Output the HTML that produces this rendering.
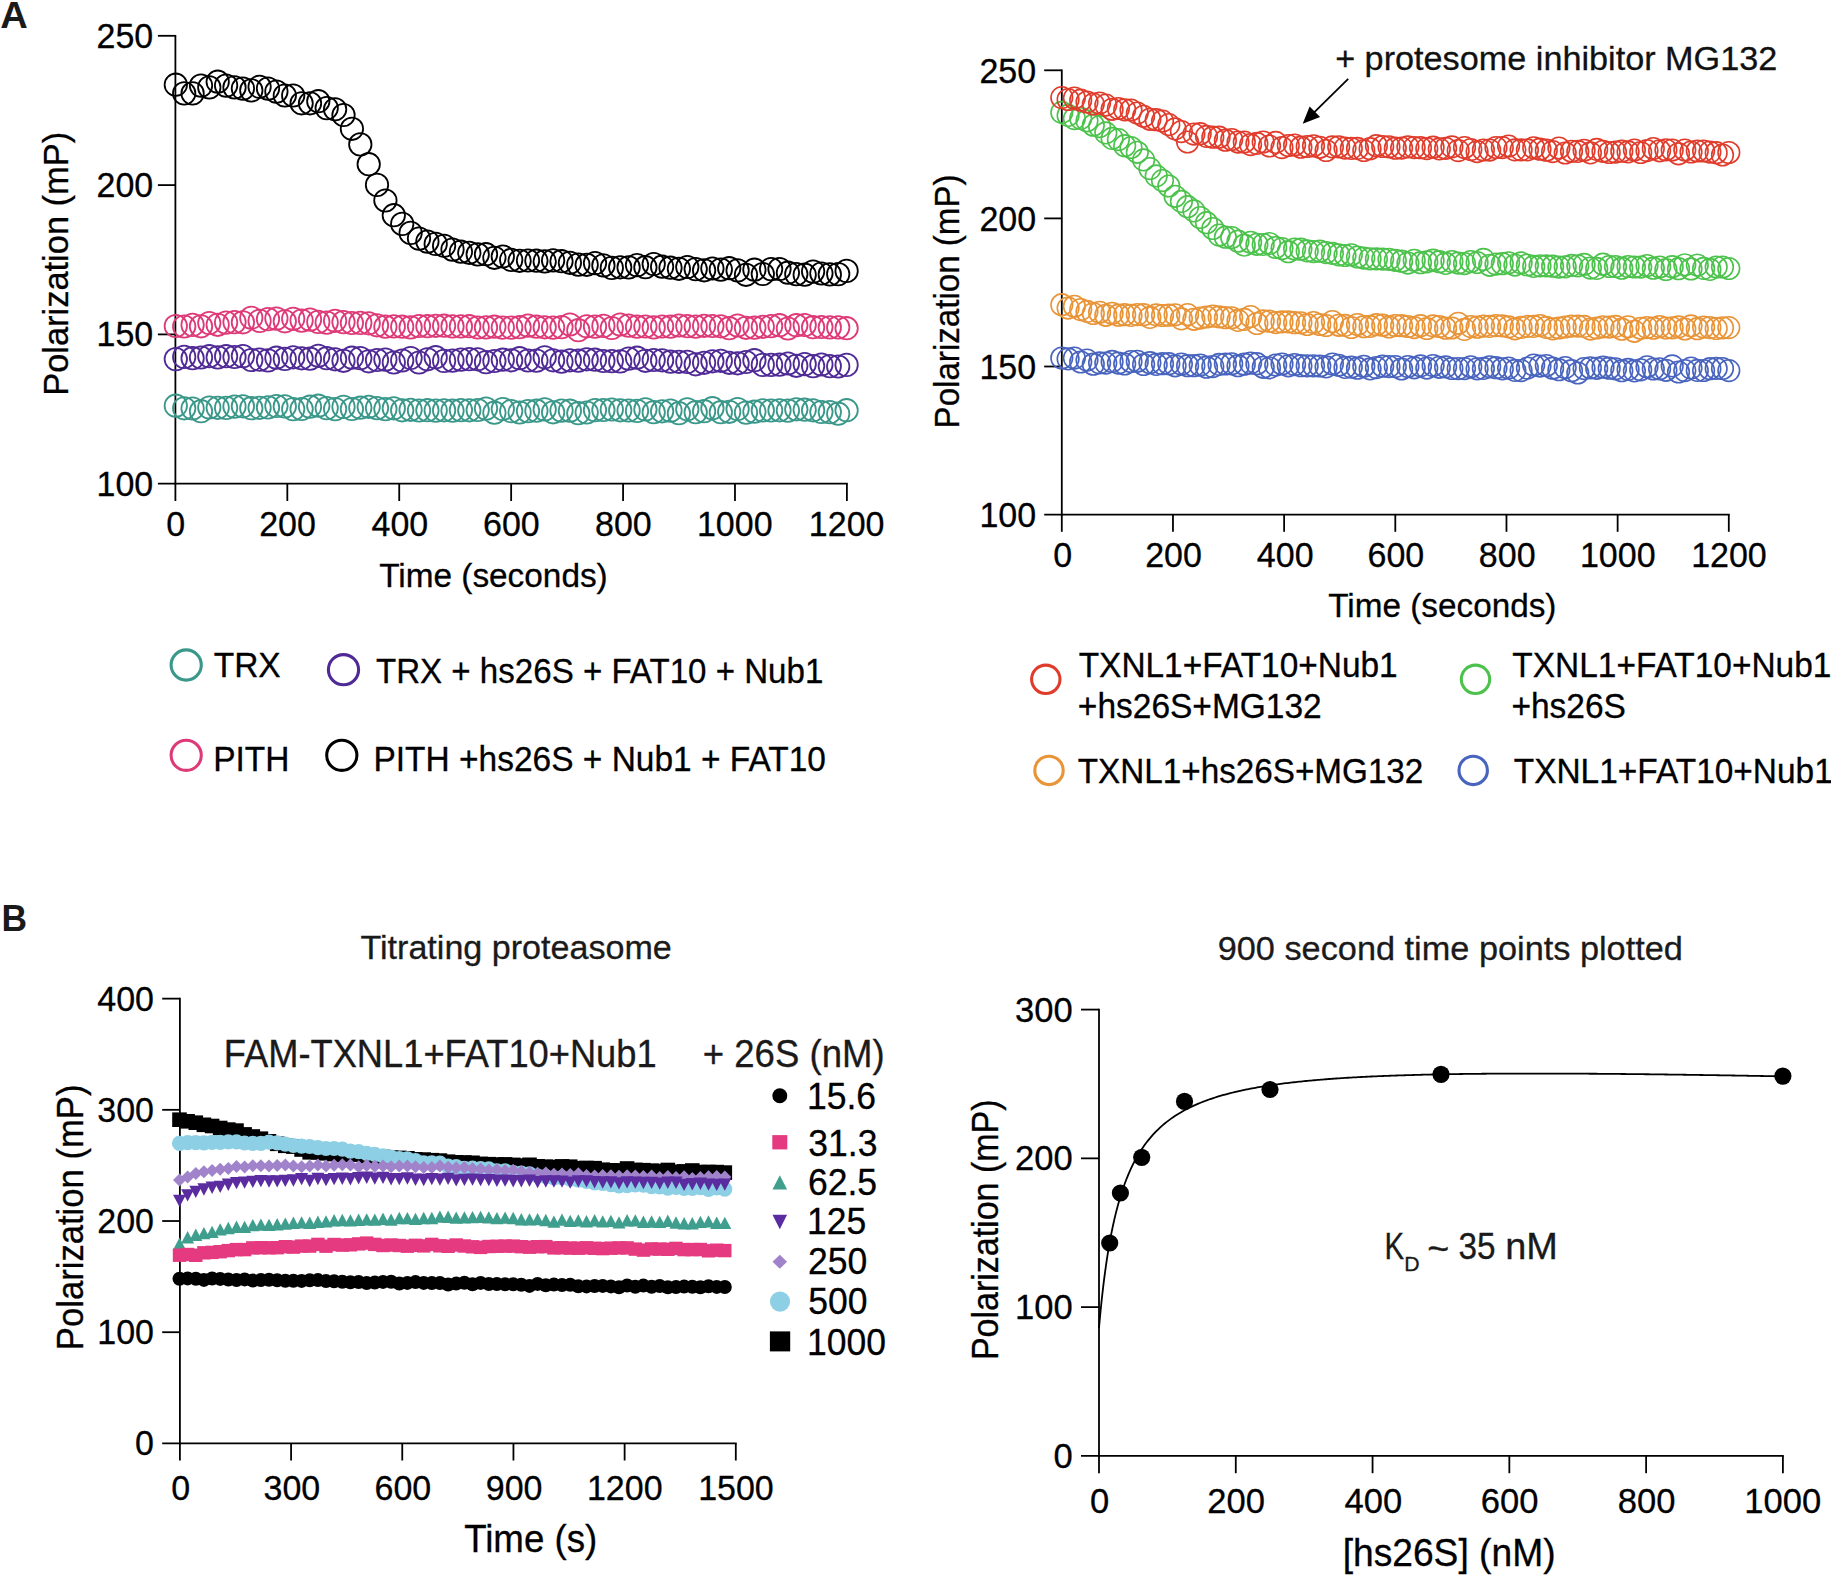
<!DOCTYPE html>
<html><head><meta charset="utf-8"><title>Figure</title>
<style>html,body{margin:0;padding:0;background:#fff;overflow:hidden;}svg{display:block;}</style></head>
<body><svg width="1831" height="1576" viewBox="0 0 1831 1576" font-family="Liberation Sans, Arial, Helvetica, sans-serif">
<rect width="100%" height="100%" fill="#fff"/>
<line x1="175.40" y1="34.90" x2="175.40" y2="484.60" stroke="#000" stroke-width="1.80"/>
<line x1="157.90" y1="483.70" x2="847.80" y2="483.70" stroke="#000" stroke-width="1.80"/>
<line x1="157.90" y1="334.40" x2="175.40" y2="334.40" stroke="#000" stroke-width="1.80"/>
<line x1="157.90" y1="185.10" x2="175.40" y2="185.10" stroke="#000" stroke-width="1.80"/>
<line x1="157.90" y1="35.80" x2="175.40" y2="35.80" stroke="#000" stroke-width="1.80"/>
<line x1="175.40" y1="483.70" x2="175.40" y2="501.00" stroke="#000" stroke-width="1.80"/>
<line x1="287.32" y1="483.70" x2="287.32" y2="501.00" stroke="#000" stroke-width="1.80"/>
<line x1="399.23" y1="483.70" x2="399.23" y2="501.00" stroke="#000" stroke-width="1.80"/>
<line x1="511.15" y1="483.70" x2="511.15" y2="501.00" stroke="#000" stroke-width="1.80"/>
<line x1="623.07" y1="483.70" x2="623.07" y2="501.00" stroke="#000" stroke-width="1.80"/>
<line x1="734.98" y1="483.70" x2="734.98" y2="501.00" stroke="#000" stroke-width="1.80"/>
<line x1="846.90" y1="483.70" x2="846.90" y2="501.00" stroke="#000" stroke-width="1.80"/>
<text transform="translate(0 495.70) scale(1 1.040)" x="96.50" y="0" font-size="34.00" fill="#000" stroke="#000" stroke-width="0.3">100</text>
<text transform="translate(0 346.40) scale(1 1.040)" x="96.50" y="0" font-size="34.00" fill="#000" stroke="#000" stroke-width="0.3">150</text>
<text transform="translate(0 197.10) scale(1 1.040)" x="96.50" y="0" font-size="34.00" fill="#000" stroke="#000" stroke-width="0.3">200</text>
<text transform="translate(0 47.80) scale(1 1.040)" x="96.50" y="0" font-size="34.00" fill="#000" stroke="#000" stroke-width="0.3">250</text>
<text transform="translate(0 535.50) scale(1 1.030)" x="166.35" y="0" font-size="34.00" fill="#000" stroke="#000" stroke-width="0.3">0</text>
<text transform="translate(0 535.50) scale(1 1.030)" x="259.16" y="0" font-size="34.00" fill="#000" stroke="#000" stroke-width="0.3">200</text>
<text transform="translate(0 535.50) scale(1 1.030)" x="371.54" y="0" font-size="34.00" fill="#000" stroke="#000" stroke-width="0.3">400</text>
<text transform="translate(0 535.50) scale(1 1.030)" x="482.99" y="0" font-size="34.00" fill="#000" stroke="#000" stroke-width="0.3">600</text>
<text transform="translate(0 535.50) scale(1 1.030)" x="595.03" y="0" font-size="34.00" fill="#000" stroke="#000" stroke-width="0.3">800</text>
<text transform="translate(0 535.50) scale(1 1.030)" x="696.93" y="0" font-size="34.00" fill="#000" stroke="#000" stroke-width="0.3">1000</text>
<text transform="translate(0 535.50) scale(1 1.030)" x="808.85" y="0" font-size="34.00" fill="#000" stroke="#000" stroke-width="0.3">1200</text>
<text transform="translate(0 586.60)" x="379.15" y="0" font-size="34.00" textLength="228.60" lengthAdjust="spacingAndGlyphs" fill="#000" stroke="#000" stroke-width="0.3">Time (seconds)</text>
<text transform="translate(67.50 0) rotate(-90) scale(1 1.020)" x="-395.82" y="0" font-size="34.00" textLength="263.96" lengthAdjust="spacingAndGlyphs" fill="#000" stroke="#000" stroke-width="0.3">Polarization (mP)</text>
<g fill="none" stroke="#3a988a" stroke-width="1.8"><circle cx="175.8" cy="405.7" r="11.2"/><circle cx="184.2" cy="408.3" r="11.2"/><circle cx="192.6" cy="408.5" r="11.2"/><circle cx="201.0" cy="411.2" r="11.2"/><circle cx="209.3" cy="407.5" r="11.2"/><circle cx="217.7" cy="407.8" r="11.2"/><circle cx="226.1" cy="407.9" r="11.2"/><circle cx="234.5" cy="406.6" r="11.2"/><circle cx="242.9" cy="406.3" r="11.2"/><circle cx="251.3" cy="408.2" r="11.2"/><circle cx="259.6" cy="407.8" r="11.2"/><circle cx="268.0" cy="407.4" r="11.2"/><circle cx="276.4" cy="406.0" r="11.2"/><circle cx="284.8" cy="406.4" r="11.2"/><circle cx="293.2" cy="409.1" r="11.2"/><circle cx="301.6" cy="409.0" r="11.2"/><circle cx="310.0" cy="406.7" r="11.2"/><circle cx="318.3" cy="405.7" r="11.2"/><circle cx="326.7" cy="408.1" r="11.2"/><circle cx="335.1" cy="409.1" r="11.2"/><circle cx="343.5" cy="406.9" r="11.2"/><circle cx="351.9" cy="409.0" r="11.2"/><circle cx="360.3" cy="407.7" r="11.2"/><circle cx="368.7" cy="406.8" r="11.2"/><circle cx="377.0" cy="408.1" r="11.2"/><circle cx="385.4" cy="409.1" r="11.2"/><circle cx="393.8" cy="408.3" r="11.2"/><circle cx="402.2" cy="410.3" r="11.2"/><circle cx="410.6" cy="409.8" r="11.2"/><circle cx="419.0" cy="410.5" r="11.2"/><circle cx="427.4" cy="410.2" r="11.2"/><circle cx="435.7" cy="410.6" r="11.2"/><circle cx="444.1" cy="410.3" r="11.2"/><circle cx="452.5" cy="410.7" r="11.2"/><circle cx="460.9" cy="410.1" r="11.2"/><circle cx="469.3" cy="410.3" r="11.2"/><circle cx="477.7" cy="410.0" r="11.2"/><circle cx="486.0" cy="408.6" r="11.2"/><circle cx="494.4" cy="412.7" r="11.2"/><circle cx="502.8" cy="409.0" r="11.2"/><circle cx="511.2" cy="411.1" r="11.2"/><circle cx="519.6" cy="412.5" r="11.2"/><circle cx="528.0" cy="411.1" r="11.2"/><circle cx="536.4" cy="410.7" r="11.2"/><circle cx="544.7" cy="409.4" r="11.2"/><circle cx="553.1" cy="412.3" r="11.2"/><circle cx="561.5" cy="410.6" r="11.2"/><circle cx="569.9" cy="410.7" r="11.2"/><circle cx="578.3" cy="413.2" r="11.2"/><circle cx="586.7" cy="412.5" r="11.2"/><circle cx="595.0" cy="410.1" r="11.2"/><circle cx="603.4" cy="410.0" r="11.2"/><circle cx="611.8" cy="409.5" r="11.2"/><circle cx="620.2" cy="410.3" r="11.2"/><circle cx="628.6" cy="410.5" r="11.2"/><circle cx="637.0" cy="410.9" r="11.2"/><circle cx="645.4" cy="409.4" r="11.2"/><circle cx="653.7" cy="412.2" r="11.2"/><circle cx="662.1" cy="411.3" r="11.2"/><circle cx="670.5" cy="410.6" r="11.2"/><circle cx="678.9" cy="413.2" r="11.2"/><circle cx="687.3" cy="409.3" r="11.2"/><circle cx="695.7" cy="412.2" r="11.2"/><circle cx="704.1" cy="411.2" r="11.2"/><circle cx="712.4" cy="408.2" r="11.2"/><circle cx="720.8" cy="412.2" r="11.2"/><circle cx="729.2" cy="411.8" r="11.2"/><circle cx="737.6" cy="409.0" r="11.2"/><circle cx="746.0" cy="412.6" r="11.2"/><circle cx="754.4" cy="411.7" r="11.2"/><circle cx="762.8" cy="410.4" r="11.2"/><circle cx="771.1" cy="410.5" r="11.2"/><circle cx="779.5" cy="410.3" r="11.2"/><circle cx="787.9" cy="410.6" r="11.2"/><circle cx="796.3" cy="409.3" r="11.2"/><circle cx="804.7" cy="409.7" r="11.2"/><circle cx="813.1" cy="410.3" r="11.2"/><circle cx="821.4" cy="412.0" r="11.2"/><circle cx="829.8" cy="412.1" r="11.2"/><circle cx="838.2" cy="413.7" r="11.2"/><circle cx="846.6" cy="410.2" r="11.2"/></g>
<g fill="none" stroke="#de3a78" stroke-width="1.8"><circle cx="175.8" cy="326.0" r="11.2"/><circle cx="184.2" cy="326.5" r="11.2"/><circle cx="192.6" cy="324.9" r="11.2"/><circle cx="201.0" cy="326.3" r="11.2"/><circle cx="209.3" cy="323.0" r="11.2"/><circle cx="217.7" cy="324.8" r="11.2"/><circle cx="226.1" cy="322.6" r="11.2"/><circle cx="234.5" cy="322.1" r="11.2"/><circle cx="242.9" cy="322.3" r="11.2"/><circle cx="251.3" cy="317.8" r="11.2"/><circle cx="259.6" cy="320.9" r="11.2"/><circle cx="268.0" cy="319.1" r="11.2"/><circle cx="276.4" cy="318.6" r="11.2"/><circle cx="284.8" cy="321.3" r="11.2"/><circle cx="293.2" cy="318.8" r="11.2"/><circle cx="301.6" cy="320.6" r="11.2"/><circle cx="310.0" cy="319.6" r="11.2"/><circle cx="318.3" cy="321.9" r="11.2"/><circle cx="326.7" cy="322.6" r="11.2"/><circle cx="335.1" cy="320.8" r="11.2"/><circle cx="343.5" cy="322.1" r="11.2"/><circle cx="351.9" cy="323.0" r="11.2"/><circle cx="360.3" cy="322.9" r="11.2"/><circle cx="368.7" cy="323.3" r="11.2"/><circle cx="377.0" cy="325.3" r="11.2"/><circle cx="385.4" cy="326.7" r="11.2"/><circle cx="393.8" cy="326.4" r="11.2"/><circle cx="402.2" cy="326.7" r="11.2"/><circle cx="410.6" cy="327.4" r="11.2"/><circle cx="419.0" cy="326.0" r="11.2"/><circle cx="427.4" cy="326.2" r="11.2"/><circle cx="435.7" cy="325.8" r="11.2"/><circle cx="444.1" cy="325.7" r="11.2"/><circle cx="452.5" cy="326.4" r="11.2"/><circle cx="460.9" cy="326.4" r="11.2"/><circle cx="469.3" cy="326.2" r="11.2"/><circle cx="477.7" cy="327.5" r="11.2"/><circle cx="486.0" cy="327.4" r="11.2"/><circle cx="494.4" cy="326.7" r="11.2"/><circle cx="502.8" cy="327.6" r="11.2"/><circle cx="511.2" cy="327.6" r="11.2"/><circle cx="519.6" cy="327.2" r="11.2"/><circle cx="528.0" cy="325.6" r="11.2"/><circle cx="536.4" cy="326.7" r="11.2"/><circle cx="544.7" cy="327.3" r="11.2"/><circle cx="553.1" cy="327.6" r="11.2"/><circle cx="561.5" cy="327.1" r="11.2"/><circle cx="569.9" cy="324.5" r="11.2"/><circle cx="578.3" cy="330.2" r="11.2"/><circle cx="586.7" cy="326.3" r="11.2"/><circle cx="595.0" cy="326.6" r="11.2"/><circle cx="603.4" cy="325.9" r="11.2"/><circle cx="611.8" cy="328.0" r="11.2"/><circle cx="620.2" cy="324.5" r="11.2"/><circle cx="628.6" cy="325.6" r="11.2"/><circle cx="637.0" cy="326.7" r="11.2"/><circle cx="645.4" cy="326.5" r="11.2"/><circle cx="653.7" cy="327.4" r="11.2"/><circle cx="662.1" cy="326.5" r="11.2"/><circle cx="670.5" cy="326.7" r="11.2"/><circle cx="678.9" cy="325.5" r="11.2"/><circle cx="687.3" cy="326.1" r="11.2"/><circle cx="695.7" cy="326.6" r="11.2"/><circle cx="704.1" cy="325.8" r="11.2"/><circle cx="712.4" cy="326.0" r="11.2"/><circle cx="720.8" cy="326.3" r="11.2"/><circle cx="729.2" cy="328.2" r="11.2"/><circle cx="737.6" cy="325.5" r="11.2"/><circle cx="746.0" cy="327.8" r="11.2"/><circle cx="754.4" cy="327.7" r="11.2"/><circle cx="762.8" cy="326.8" r="11.2"/><circle cx="771.1" cy="326.1" r="11.2"/><circle cx="779.5" cy="325.2" r="11.2"/><circle cx="787.9" cy="328.5" r="11.2"/><circle cx="796.3" cy="325.2" r="11.2"/><circle cx="804.7" cy="325.0" r="11.2"/><circle cx="813.1" cy="327.2" r="11.2"/><circle cx="821.4" cy="327.0" r="11.2"/><circle cx="829.8" cy="327.4" r="11.2"/><circle cx="838.2" cy="327.4" r="11.2"/><circle cx="846.6" cy="328.2" r="11.2"/></g>
<g fill="none" stroke="#4f2a96" stroke-width="1.8"><circle cx="175.8" cy="359.1" r="11.2"/><circle cx="184.2" cy="356.9" r="11.2"/><circle cx="192.6" cy="358.2" r="11.2"/><circle cx="201.0" cy="357.5" r="11.2"/><circle cx="209.3" cy="356.2" r="11.2"/><circle cx="217.7" cy="357.4" r="11.2"/><circle cx="226.1" cy="356.2" r="11.2"/><circle cx="234.5" cy="357.0" r="11.2"/><circle cx="242.9" cy="356.1" r="11.2"/><circle cx="251.3" cy="360.0" r="11.2"/><circle cx="259.6" cy="359.6" r="11.2"/><circle cx="268.0" cy="360.4" r="11.2"/><circle cx="276.4" cy="357.7" r="11.2"/><circle cx="284.8" cy="358.9" r="11.2"/><circle cx="293.2" cy="357.3" r="11.2"/><circle cx="301.6" cy="358.3" r="11.2"/><circle cx="310.0" cy="358.7" r="11.2"/><circle cx="318.3" cy="355.8" r="11.2"/><circle cx="326.7" cy="358.2" r="11.2"/><circle cx="335.1" cy="359.3" r="11.2"/><circle cx="343.5" cy="360.8" r="11.2"/><circle cx="351.9" cy="357.7" r="11.2"/><circle cx="360.3" cy="358.1" r="11.2"/><circle cx="368.7" cy="361.3" r="11.2"/><circle cx="377.0" cy="360.0" r="11.2"/><circle cx="385.4" cy="359.6" r="11.2"/><circle cx="393.8" cy="362.5" r="11.2"/><circle cx="402.2" cy="360.5" r="11.2"/><circle cx="410.6" cy="358.0" r="11.2"/><circle cx="419.0" cy="362.5" r="11.2"/><circle cx="427.4" cy="359.3" r="11.2"/><circle cx="435.7" cy="357.2" r="11.2"/><circle cx="444.1" cy="360.9" r="11.2"/><circle cx="452.5" cy="360.6" r="11.2"/><circle cx="460.9" cy="359.6" r="11.2"/><circle cx="469.3" cy="359.1" r="11.2"/><circle cx="477.7" cy="359.3" r="11.2"/><circle cx="486.0" cy="362.1" r="11.2"/><circle cx="494.4" cy="361.0" r="11.2"/><circle cx="502.8" cy="359.7" r="11.2"/><circle cx="511.2" cy="360.3" r="11.2"/><circle cx="519.6" cy="358.2" r="11.2"/><circle cx="528.0" cy="360.5" r="11.2"/><circle cx="536.4" cy="360.6" r="11.2"/><circle cx="544.7" cy="357.3" r="11.2"/><circle cx="553.1" cy="360.3" r="11.2"/><circle cx="561.5" cy="361.7" r="11.2"/><circle cx="569.9" cy="360.3" r="11.2"/><circle cx="578.3" cy="360.7" r="11.2"/><circle cx="586.7" cy="359.3" r="11.2"/><circle cx="595.0" cy="359.7" r="11.2"/><circle cx="603.4" cy="361.0" r="11.2"/><circle cx="611.8" cy="361.1" r="11.2"/><circle cx="620.2" cy="361.4" r="11.2"/><circle cx="628.6" cy="358.6" r="11.2"/><circle cx="637.0" cy="357.7" r="11.2"/><circle cx="645.4" cy="360.8" r="11.2"/><circle cx="653.7" cy="360.0" r="11.2"/><circle cx="662.1" cy="360.3" r="11.2"/><circle cx="670.5" cy="361.7" r="11.2"/><circle cx="678.9" cy="361.8" r="11.2"/><circle cx="687.3" cy="361.9" r="11.2"/><circle cx="695.7" cy="364.3" r="11.2"/><circle cx="704.1" cy="362.8" r="11.2"/><circle cx="712.4" cy="361.3" r="11.2"/><circle cx="720.8" cy="360.8" r="11.2"/><circle cx="729.2" cy="362.8" r="11.2"/><circle cx="737.6" cy="363.3" r="11.2"/><circle cx="746.0" cy="362.0" r="11.2"/><circle cx="754.4" cy="360.2" r="11.2"/><circle cx="762.8" cy="364.9" r="11.2"/><circle cx="771.1" cy="364.9" r="11.2"/><circle cx="779.5" cy="364.7" r="11.2"/><circle cx="787.9" cy="363.5" r="11.2"/><circle cx="796.3" cy="365.8" r="11.2"/><circle cx="804.7" cy="364.1" r="11.2"/><circle cx="813.1" cy="366.1" r="11.2"/><circle cx="821.4" cy="364.5" r="11.2"/><circle cx="829.8" cy="366.1" r="11.2"/><circle cx="838.2" cy="366.5" r="11.2"/><circle cx="846.6" cy="364.9" r="11.2"/></g>
<g fill="none" stroke="#000000" stroke-width="1.8"><circle cx="175.8" cy="84.7" r="11.2"/><circle cx="184.2" cy="93.4" r="11.2"/><circle cx="192.6" cy="93.4" r="11.2"/><circle cx="201.0" cy="85.6" r="11.2"/><circle cx="209.3" cy="87.4" r="11.2"/><circle cx="217.7" cy="81.7" r="11.2"/><circle cx="226.1" cy="85.6" r="11.2"/><circle cx="234.5" cy="87.4" r="11.2"/><circle cx="242.9" cy="88.6" r="11.2"/><circle cx="251.3" cy="90.4" r="11.2"/><circle cx="259.6" cy="86.8" r="11.2"/><circle cx="268.0" cy="88.6" r="11.2"/><circle cx="276.4" cy="91.6" r="11.2"/><circle cx="284.8" cy="95.5" r="11.2"/><circle cx="293.2" cy="95.5" r="11.2"/><circle cx="301.6" cy="103.3" r="11.2"/><circle cx="310.0" cy="103.3" r="11.2"/><circle cx="318.3" cy="101.2" r="11.2"/><circle cx="326.7" cy="108.1" r="11.2"/><circle cx="335.1" cy="109.3" r="11.2"/><circle cx="343.5" cy="115.0" r="11.2"/><circle cx="351.9" cy="128.8" r="11.2"/><circle cx="360.3" cy="144.4" r="11.2"/><circle cx="368.7" cy="164.2" r="11.2"/><circle cx="377.0" cy="184.9" r="11.2"/><circle cx="385.4" cy="200.5" r="11.2"/><circle cx="393.8" cy="215.2" r="11.2"/><circle cx="402.2" cy="223.9" r="11.2"/><circle cx="410.6" cy="232.9" r="11.2"/><circle cx="419.0" cy="238.6" r="11.2"/><circle cx="427.4" cy="241.6" r="11.2"/><circle cx="435.7" cy="243.9" r="11.2"/><circle cx="444.1" cy="245.8" r="11.2"/><circle cx="452.5" cy="249.6" r="11.2"/><circle cx="460.9" cy="251.7" r="11.2"/><circle cx="469.3" cy="252.8" r="11.2"/><circle cx="477.7" cy="254.4" r="11.2"/><circle cx="486.0" cy="254.2" r="11.2"/><circle cx="494.4" cy="257.8" r="11.2"/><circle cx="502.8" cy="256.5" r="11.2"/><circle cx="511.2" cy="259.9" r="11.2"/><circle cx="519.6" cy="260.8" r="11.2"/><circle cx="528.0" cy="260.5" r="11.2"/><circle cx="536.4" cy="260.7" r="11.2"/><circle cx="544.7" cy="261.4" r="11.2"/><circle cx="553.1" cy="260.4" r="11.2"/><circle cx="561.5" cy="261.2" r="11.2"/><circle cx="569.9" cy="262.8" r="11.2"/><circle cx="578.3" cy="264.6" r="11.2"/><circle cx="586.7" cy="264.8" r="11.2"/><circle cx="595.0" cy="263.1" r="11.2"/><circle cx="603.4" cy="265.4" r="11.2"/><circle cx="611.8" cy="267.9" r="11.2"/><circle cx="620.2" cy="267.3" r="11.2"/><circle cx="628.6" cy="267.4" r="11.2"/><circle cx="637.0" cy="265.1" r="11.2"/><circle cx="645.4" cy="267.2" r="11.2"/><circle cx="653.7" cy="264.0" r="11.2"/><circle cx="662.1" cy="266.7" r="11.2"/><circle cx="670.5" cy="267.7" r="11.2"/><circle cx="678.9" cy="268.8" r="11.2"/><circle cx="687.3" cy="267.0" r="11.2"/><circle cx="695.7" cy="269.1" r="11.2"/><circle cx="704.1" cy="270.3" r="11.2"/><circle cx="712.4" cy="268.5" r="11.2"/><circle cx="720.8" cy="269.6" r="11.2"/><circle cx="729.2" cy="268.2" r="11.2"/><circle cx="737.6" cy="270.4" r="11.2"/><circle cx="746.0" cy="274.8" r="11.2"/><circle cx="754.4" cy="269.7" r="11.2"/><circle cx="762.8" cy="274.0" r="11.2"/><circle cx="771.1" cy="269.1" r="11.2"/><circle cx="779.5" cy="269.0" r="11.2"/><circle cx="787.9" cy="272.7" r="11.2"/><circle cx="796.3" cy="274.1" r="11.2"/><circle cx="804.7" cy="274.7" r="11.2"/><circle cx="813.1" cy="271.6" r="11.2"/><circle cx="821.4" cy="273.5" r="11.2"/><circle cx="829.8" cy="274.4" r="11.2"/><circle cx="838.2" cy="274.1" r="11.2"/><circle cx="846.6" cy="270.9" r="11.2"/></g>
<circle cx="186.2" cy="665.0" r="15.1" fill="none" stroke="#3a988a" stroke-width="3.1"/>
<circle cx="343.5" cy="669.7" r="15.1" fill="none" stroke="#4f2a96" stroke-width="3.1"/>
<circle cx="186.2" cy="755.3" r="15.1" fill="none" stroke="#de3a78" stroke-width="3.1"/>
<circle cx="341.8" cy="755.3" r="15.1" fill="none" stroke="#000000" stroke-width="3.1"/>
<text transform="translate(0 677.20) scale(1 1.060)" x="213.75" y="0" font-size="33.50" fill="#000" stroke="#000" stroke-width="0.3">TRX</text>
<text transform="translate(0 682.50) scale(1 1.030)" x="375.96" y="0" font-size="33.50" textLength="447.34" lengthAdjust="spacingAndGlyphs" fill="#000" stroke="#000" stroke-width="0.3">TRX + hs26S + FAT10 + Nub1</text>
<text transform="translate(0 770.50) scale(1 1.060)" x="213.15" y="0" font-size="33.50" fill="#000" stroke="#000" stroke-width="0.3">PITH</text>
<text transform="translate(0 770.50) scale(1 1.030)" x="373.48" y="0" font-size="33.50" textLength="452.52" lengthAdjust="spacingAndGlyphs" fill="#000" stroke="#000" stroke-width="0.3">PITH +hs26S + Nub1 + FAT10</text>
<line x1="1061.80" y1="69.40" x2="1061.80" y2="515.50" stroke="#000" stroke-width="1.80"/>
<line x1="1044.20" y1="514.60" x2="1729.70" y2="514.60" stroke="#000" stroke-width="1.80"/>
<line x1="1044.20" y1="366.50" x2="1061.80" y2="366.50" stroke="#000" stroke-width="1.80"/>
<line x1="1044.20" y1="218.40" x2="1061.80" y2="218.40" stroke="#000" stroke-width="1.80"/>
<line x1="1044.20" y1="70.30" x2="1061.80" y2="70.30" stroke="#000" stroke-width="1.80"/>
<line x1="1061.80" y1="514.60" x2="1061.80" y2="531.80" stroke="#000" stroke-width="1.80"/>
<line x1="1172.97" y1="514.60" x2="1172.97" y2="531.80" stroke="#000" stroke-width="1.80"/>
<line x1="1284.13" y1="514.60" x2="1284.13" y2="531.80" stroke="#000" stroke-width="1.80"/>
<line x1="1395.30" y1="514.60" x2="1395.30" y2="531.80" stroke="#000" stroke-width="1.80"/>
<line x1="1506.47" y1="514.60" x2="1506.47" y2="531.80" stroke="#000" stroke-width="1.80"/>
<line x1="1617.63" y1="514.60" x2="1617.63" y2="531.80" stroke="#000" stroke-width="1.80"/>
<line x1="1728.80" y1="514.60" x2="1728.80" y2="531.80" stroke="#000" stroke-width="1.80"/>
<text transform="translate(0 527.20) scale(1 1.020)" x="979.40" y="0" font-size="34.00" fill="#000" stroke="#000" stroke-width="0.3">100</text>
<text transform="translate(0 379.10) scale(1 1.020)" x="979.40" y="0" font-size="34.00" fill="#000" stroke="#000" stroke-width="0.3">150</text>
<text transform="translate(0 231.00) scale(1 1.020)" x="979.40" y="0" font-size="34.00" fill="#000" stroke="#000" stroke-width="0.3">200</text>
<text transform="translate(0 82.90) scale(1 1.020)" x="979.40" y="0" font-size="34.00" fill="#000" stroke="#000" stroke-width="0.3">250</text>
<text transform="translate(0 566.80) scale(1 1.020)" x="1053.15" y="0" font-size="34.00" fill="#000" stroke="#000" stroke-width="0.3">0</text>
<text transform="translate(0 566.80) scale(1 1.020)" x="1145.21" y="0" font-size="34.00" fill="#000" stroke="#000" stroke-width="0.3">200</text>
<text transform="translate(0 566.80) scale(1 1.020)" x="1256.84" y="0" font-size="34.00" fill="#000" stroke="#000" stroke-width="0.3">400</text>
<text transform="translate(0 566.80) scale(1 1.020)" x="1367.54" y="0" font-size="34.00" fill="#000" stroke="#000" stroke-width="0.3">600</text>
<text transform="translate(0 566.80) scale(1 1.020)" x="1478.83" y="0" font-size="34.00" fill="#000" stroke="#000" stroke-width="0.3">800</text>
<text transform="translate(0 566.80) scale(1 1.020)" x="1579.98" y="0" font-size="34.00" fill="#000" stroke="#000" stroke-width="0.3">1000</text>
<text transform="translate(0 566.80) scale(1 1.020)" x="1691.15" y="0" font-size="34.00" fill="#000" stroke="#000" stroke-width="0.3">1200</text>
<text transform="translate(0 617.00)" x="1328.26" y="0" font-size="34.00" textLength="228.20" lengthAdjust="spacingAndGlyphs" fill="#000" stroke="#000" stroke-width="0.3">Time (seconds)</text>
<text transform="translate(958.70 0) rotate(-90) scale(1 1.020)" x="-428.42" y="0" font-size="33.50" textLength="253.97" lengthAdjust="spacingAndGlyphs" fill="#000" stroke="#000" stroke-width="0.3">Polarization (mP)</text>
<g fill="none" stroke="#4864be" stroke-width="1.6"><circle cx="1061.8" cy="358.0" r="10.8"/><circle cx="1068.1" cy="358.9" r="10.8"/><circle cx="1074.4" cy="358.1" r="10.8"/><circle cx="1080.7" cy="362.0" r="10.8"/><circle cx="1087.0" cy="360.1" r="10.8"/><circle cx="1093.3" cy="364.2" r="10.8"/><circle cx="1099.6" cy="362.9" r="10.8"/><circle cx="1105.8" cy="363.1" r="10.8"/><circle cx="1112.1" cy="361.4" r="10.8"/><circle cx="1118.4" cy="363.1" r="10.8"/><circle cx="1124.7" cy="364.0" r="10.8"/><circle cx="1131.0" cy="361.5" r="10.8"/><circle cx="1137.3" cy="361.3" r="10.8"/><circle cx="1143.6" cy="364.5" r="10.8"/><circle cx="1149.9" cy="362.7" r="10.8"/><circle cx="1156.2" cy="364.4" r="10.8"/><circle cx="1162.5" cy="363.7" r="10.8"/><circle cx="1168.8" cy="363.7" r="10.8"/><circle cx="1175.1" cy="365.8" r="10.8"/><circle cx="1181.4" cy="364.1" r="10.8"/><circle cx="1187.6" cy="365.7" r="10.8"/><circle cx="1193.9" cy="365.7" r="10.8"/><circle cx="1200.2" cy="365.1" r="10.8"/><circle cx="1206.5" cy="367.2" r="10.8"/><circle cx="1212.8" cy="366.6" r="10.8"/><circle cx="1219.1" cy="364.4" r="10.8"/><circle cx="1225.4" cy="364.0" r="10.8"/><circle cx="1231.7" cy="363.8" r="10.8"/><circle cx="1238.0" cy="365.7" r="10.8"/><circle cx="1244.3" cy="364.2" r="10.8"/><circle cx="1250.6" cy="363.1" r="10.8"/><circle cx="1256.9" cy="363.7" r="10.8"/><circle cx="1263.2" cy="367.3" r="10.8"/><circle cx="1269.5" cy="367.8" r="10.8"/><circle cx="1275.7" cy="365.1" r="10.8"/><circle cx="1282.0" cy="364.0" r="10.8"/><circle cx="1288.3" cy="365.8" r="10.8"/><circle cx="1294.6" cy="364.6" r="10.8"/><circle cx="1300.9" cy="365.7" r="10.8"/><circle cx="1307.2" cy="365.8" r="10.8"/><circle cx="1313.5" cy="365.8" r="10.8"/><circle cx="1319.8" cy="366.0" r="10.8"/><circle cx="1326.1" cy="366.9" r="10.8"/><circle cx="1332.4" cy="364.0" r="10.8"/><circle cx="1338.7" cy="365.3" r="10.8"/><circle cx="1345.0" cy="367.4" r="10.8"/><circle cx="1351.3" cy="367.1" r="10.8"/><circle cx="1357.5" cy="368.2" r="10.8"/><circle cx="1363.8" cy="366.3" r="10.8"/><circle cx="1370.1" cy="368.9" r="10.8"/><circle cx="1376.4" cy="367.6" r="10.8"/><circle cx="1382.7" cy="366.2" r="10.8"/><circle cx="1389.0" cy="366.6" r="10.8"/><circle cx="1395.3" cy="366.6" r="10.8"/><circle cx="1401.6" cy="369.0" r="10.8"/><circle cx="1407.9" cy="366.5" r="10.8"/><circle cx="1414.2" cy="367.8" r="10.8"/><circle cx="1420.5" cy="365.9" r="10.8"/><circle cx="1426.8" cy="368.1" r="10.8"/><circle cx="1433.1" cy="365.5" r="10.8"/><circle cx="1439.3" cy="367.3" r="10.8"/><circle cx="1445.6" cy="366.9" r="10.8"/><circle cx="1451.9" cy="368.5" r="10.8"/><circle cx="1458.2" cy="368.6" r="10.8"/><circle cx="1464.5" cy="368.6" r="10.8"/><circle cx="1470.8" cy="366.8" r="10.8"/><circle cx="1477.1" cy="368.8" r="10.8"/><circle cx="1483.4" cy="368.4" r="10.8"/><circle cx="1489.7" cy="366.8" r="10.8"/><circle cx="1496.0" cy="367.7" r="10.8"/><circle cx="1502.3" cy="368.8" r="10.8"/><circle cx="1508.6" cy="368.1" r="10.8"/><circle cx="1514.9" cy="370.4" r="10.8"/><circle cx="1521.1" cy="370.6" r="10.8"/><circle cx="1527.4" cy="368.1" r="10.8"/><circle cx="1533.7" cy="365.1" r="10.8"/><circle cx="1540.0" cy="366.1" r="10.8"/><circle cx="1546.3" cy="365.5" r="10.8"/><circle cx="1552.6" cy="368.2" r="10.8"/><circle cx="1558.9" cy="369.7" r="10.8"/><circle cx="1565.2" cy="367.6" r="10.8"/><circle cx="1571.5" cy="370.7" r="10.8"/><circle cx="1577.8" cy="373.0" r="10.8"/><circle cx="1584.1" cy="368.6" r="10.8"/><circle cx="1590.4" cy="367.8" r="10.8"/><circle cx="1596.7" cy="368.3" r="10.8"/><circle cx="1603.0" cy="367.2" r="10.8"/><circle cx="1609.2" cy="368.2" r="10.8"/><circle cx="1615.5" cy="368.8" r="10.8"/><circle cx="1621.8" cy="370.7" r="10.8"/><circle cx="1628.1" cy="369.4" r="10.8"/><circle cx="1634.4" cy="370.9" r="10.8"/><circle cx="1640.7" cy="369.8" r="10.8"/><circle cx="1647.0" cy="366.8" r="10.8"/><circle cx="1653.3" cy="369.0" r="10.8"/><circle cx="1659.6" cy="368.8" r="10.8"/><circle cx="1665.9" cy="370.3" r="10.8"/><circle cx="1672.2" cy="365.9" r="10.8"/><circle cx="1678.5" cy="372.0" r="10.8"/><circle cx="1684.8" cy="370.6" r="10.8"/><circle cx="1691.0" cy="368.1" r="10.8"/><circle cx="1697.3" cy="370.4" r="10.8"/><circle cx="1703.6" cy="370.5" r="10.8"/><circle cx="1709.9" cy="368.7" r="10.8"/><circle cx="1716.2" cy="368.4" r="10.8"/><circle cx="1722.5" cy="368.5" r="10.8"/><circle cx="1728.8" cy="370.6" r="10.8"/></g>
<g fill="none" stroke="#e89437" stroke-width="1.6"><circle cx="1061.8" cy="304.7" r="10.8"/><circle cx="1068.1" cy="308.1" r="10.8"/><circle cx="1074.4" cy="306.3" r="10.8"/><circle cx="1080.7" cy="309.6" r="10.8"/><circle cx="1087.0" cy="311.4" r="10.8"/><circle cx="1093.3" cy="313.5" r="10.8"/><circle cx="1099.6" cy="312.3" r="10.8"/><circle cx="1105.8" cy="315.3" r="10.8"/><circle cx="1112.1" cy="313.3" r="10.8"/><circle cx="1118.4" cy="315.2" r="10.8"/><circle cx="1124.7" cy="314.7" r="10.8"/><circle cx="1131.0" cy="315.4" r="10.8"/><circle cx="1137.3" cy="314.6" r="10.8"/><circle cx="1143.6" cy="314.7" r="10.8"/><circle cx="1149.9" cy="317.4" r="10.8"/><circle cx="1156.2" cy="314.9" r="10.8"/><circle cx="1162.5" cy="315.5" r="10.8"/><circle cx="1168.8" cy="315.2" r="10.8"/><circle cx="1175.1" cy="314.8" r="10.8"/><circle cx="1181.4" cy="318.9" r="10.8"/><circle cx="1187.6" cy="314.6" r="10.8"/><circle cx="1193.9" cy="319.3" r="10.8"/><circle cx="1200.2" cy="318.1" r="10.8"/><circle cx="1206.5" cy="317.0" r="10.8"/><circle cx="1212.8" cy="316.1" r="10.8"/><circle cx="1219.1" cy="316.9" r="10.8"/><circle cx="1225.4" cy="317.7" r="10.8"/><circle cx="1231.7" cy="317.8" r="10.8"/><circle cx="1238.0" cy="320.4" r="10.8"/><circle cx="1244.3" cy="319.4" r="10.8"/><circle cx="1250.6" cy="316.5" r="10.8"/><circle cx="1256.9" cy="323.5" r="10.8"/><circle cx="1263.2" cy="320.9" r="10.8"/><circle cx="1269.5" cy="321.2" r="10.8"/><circle cx="1275.7" cy="322.6" r="10.8"/><circle cx="1282.0" cy="321.9" r="10.8"/><circle cx="1288.3" cy="321.9" r="10.8"/><circle cx="1294.6" cy="322.7" r="10.8"/><circle cx="1300.9" cy="322.8" r="10.8"/><circle cx="1307.2" cy="324.5" r="10.8"/><circle cx="1313.5" cy="322.6" r="10.8"/><circle cx="1319.8" cy="324.5" r="10.8"/><circle cx="1326.1" cy="325.5" r="10.8"/><circle cx="1332.4" cy="321.5" r="10.8"/><circle cx="1338.7" cy="325.3" r="10.8"/><circle cx="1345.0" cy="325.4" r="10.8"/><circle cx="1351.3" cy="327.5" r="10.8"/><circle cx="1357.5" cy="324.6" r="10.8"/><circle cx="1363.8" cy="326.7" r="10.8"/><circle cx="1370.1" cy="326.4" r="10.8"/><circle cx="1376.4" cy="324.7" r="10.8"/><circle cx="1382.7" cy="325.2" r="10.8"/><circle cx="1389.0" cy="327.0" r="10.8"/><circle cx="1395.3" cy="325.5" r="10.8"/><circle cx="1401.6" cy="325.7" r="10.8"/><circle cx="1407.9" cy="326.5" r="10.8"/><circle cx="1414.2" cy="327.6" r="10.8"/><circle cx="1420.5" cy="325.7" r="10.8"/><circle cx="1426.8" cy="328.5" r="10.8"/><circle cx="1433.1" cy="325.9" r="10.8"/><circle cx="1439.3" cy="326.5" r="10.8"/><circle cx="1445.6" cy="328.2" r="10.8"/><circle cx="1451.9" cy="328.0" r="10.8"/><circle cx="1458.2" cy="323.3" r="10.8"/><circle cx="1464.5" cy="329.4" r="10.8"/><circle cx="1470.8" cy="326.6" r="10.8"/><circle cx="1477.1" cy="327.2" r="10.8"/><circle cx="1483.4" cy="326.1" r="10.8"/><circle cx="1489.7" cy="326.4" r="10.8"/><circle cx="1496.0" cy="325.6" r="10.8"/><circle cx="1502.3" cy="325.9" r="10.8"/><circle cx="1508.6" cy="326.9" r="10.8"/><circle cx="1514.9" cy="328.8" r="10.8"/><circle cx="1521.1" cy="327.4" r="10.8"/><circle cx="1527.4" cy="326.4" r="10.8"/><circle cx="1533.7" cy="326.4" r="10.8"/><circle cx="1540.0" cy="325.6" r="10.8"/><circle cx="1546.3" cy="327.4" r="10.8"/><circle cx="1552.6" cy="328.8" r="10.8"/><circle cx="1558.9" cy="328.0" r="10.8"/><circle cx="1565.2" cy="327.0" r="10.8"/><circle cx="1571.5" cy="326.1" r="10.8"/><circle cx="1577.8" cy="326.1" r="10.8"/><circle cx="1584.1" cy="326.4" r="10.8"/><circle cx="1590.4" cy="329.1" r="10.8"/><circle cx="1596.7" cy="328.0" r="10.8"/><circle cx="1603.0" cy="326.8" r="10.8"/><circle cx="1609.2" cy="327.1" r="10.8"/><circle cx="1615.5" cy="326.4" r="10.8"/><circle cx="1621.8" cy="329.2" r="10.8"/><circle cx="1628.1" cy="326.8" r="10.8"/><circle cx="1634.4" cy="331.3" r="10.8"/><circle cx="1640.7" cy="328.3" r="10.8"/><circle cx="1647.0" cy="327.6" r="10.8"/><circle cx="1653.3" cy="328.2" r="10.8"/><circle cx="1659.6" cy="326.6" r="10.8"/><circle cx="1665.9" cy="328.0" r="10.8"/><circle cx="1672.2" cy="327.8" r="10.8"/><circle cx="1678.5" cy="326.9" r="10.8"/><circle cx="1684.8" cy="329.0" r="10.8"/><circle cx="1691.0" cy="325.9" r="10.8"/><circle cx="1697.3" cy="328.7" r="10.8"/><circle cx="1703.6" cy="327.1" r="10.8"/><circle cx="1709.9" cy="327.6" r="10.8"/><circle cx="1716.2" cy="328.5" r="10.8"/><circle cx="1722.5" cy="327.8" r="10.8"/><circle cx="1728.8" cy="327.6" r="10.8"/></g>
<g fill="none" stroke="#4cc24c" stroke-width="1.6"><circle cx="1061.8" cy="112.4" r="10.8"/><circle cx="1068.1" cy="115.4" r="10.8"/><circle cx="1074.4" cy="118.6" r="10.8"/><circle cx="1080.7" cy="118.4" r="10.8"/><circle cx="1087.0" cy="120.8" r="10.8"/><circle cx="1093.3" cy="125.2" r="10.8"/><circle cx="1099.6" cy="126.6" r="10.8"/><circle cx="1105.8" cy="132.9" r="10.8"/><circle cx="1112.1" cy="138.4" r="10.8"/><circle cx="1118.4" cy="139.6" r="10.8"/><circle cx="1124.7" cy="145.7" r="10.8"/><circle cx="1131.0" cy="147.5" r="10.8"/><circle cx="1137.3" cy="152.3" r="10.8"/><circle cx="1143.6" cy="159.9" r="10.8"/><circle cx="1149.9" cy="168.6" r="10.8"/><circle cx="1156.2" cy="175.9" r="10.8"/><circle cx="1162.5" cy="180.6" r="10.8"/><circle cx="1168.8" cy="186.0" r="10.8"/><circle cx="1175.1" cy="196.3" r="10.8"/><circle cx="1181.4" cy="201.4" r="10.8"/><circle cx="1187.6" cy="206.7" r="10.8"/><circle cx="1193.9" cy="210.9" r="10.8"/><circle cx="1200.2" cy="217.5" r="10.8"/><circle cx="1206.5" cy="222.7" r="10.8"/><circle cx="1212.8" cy="228.5" r="10.8"/><circle cx="1219.1" cy="235.1" r="10.8"/><circle cx="1225.4" cy="237.2" r="10.8"/><circle cx="1231.7" cy="237.5" r="10.8"/><circle cx="1238.0" cy="241.2" r="10.8"/><circle cx="1244.3" cy="245.2" r="10.8"/><circle cx="1250.6" cy="242.3" r="10.8"/><circle cx="1256.9" cy="244.3" r="10.8"/><circle cx="1263.2" cy="244.5" r="10.8"/><circle cx="1269.5" cy="243.5" r="10.8"/><circle cx="1275.7" cy="247.5" r="10.8"/><circle cx="1282.0" cy="248.5" r="10.8"/><circle cx="1288.3" cy="251.7" r="10.8"/><circle cx="1294.6" cy="249.0" r="10.8"/><circle cx="1300.9" cy="249.2" r="10.8"/><circle cx="1307.2" cy="250.9" r="10.8"/><circle cx="1313.5" cy="251.6" r="10.8"/><circle cx="1319.8" cy="251.2" r="10.8"/><circle cx="1326.1" cy="252.6" r="10.8"/><circle cx="1332.4" cy="253.4" r="10.8"/><circle cx="1338.7" cy="254.8" r="10.8"/><circle cx="1345.0" cy="255.5" r="10.8"/><circle cx="1351.3" cy="254.8" r="10.8"/><circle cx="1357.5" cy="257.0" r="10.8"/><circle cx="1363.8" cy="258.1" r="10.8"/><circle cx="1370.1" cy="258.8" r="10.8"/><circle cx="1376.4" cy="258.9" r="10.8"/><circle cx="1382.7" cy="259.1" r="10.8"/><circle cx="1389.0" cy="259.3" r="10.8"/><circle cx="1395.3" cy="260.3" r="10.8"/><circle cx="1401.6" cy="261.2" r="10.8"/><circle cx="1407.9" cy="263.1" r="10.8"/><circle cx="1414.2" cy="260.3" r="10.8"/><circle cx="1420.5" cy="262.7" r="10.8"/><circle cx="1426.8" cy="261.8" r="10.8"/><circle cx="1433.1" cy="260.2" r="10.8"/><circle cx="1439.3" cy="261.7" r="10.8"/><circle cx="1445.6" cy="263.4" r="10.8"/><circle cx="1451.9" cy="261.6" r="10.8"/><circle cx="1458.2" cy="263.1" r="10.8"/><circle cx="1464.5" cy="263.6" r="10.8"/><circle cx="1470.8" cy="261.5" r="10.8"/><circle cx="1477.1" cy="262.5" r="10.8"/><circle cx="1483.4" cy="259.4" r="10.8"/><circle cx="1489.7" cy="265.3" r="10.8"/><circle cx="1496.0" cy="264.1" r="10.8"/><circle cx="1502.3" cy="263.7" r="10.8"/><circle cx="1508.6" cy="262.8" r="10.8"/><circle cx="1514.9" cy="265.1" r="10.8"/><circle cx="1521.1" cy="262.9" r="10.8"/><circle cx="1527.4" cy="265.0" r="10.8"/><circle cx="1533.7" cy="266.4" r="10.8"/><circle cx="1540.0" cy="265.8" r="10.8"/><circle cx="1546.3" cy="265.9" r="10.8"/><circle cx="1552.6" cy="266.2" r="10.8"/><circle cx="1558.9" cy="267.1" r="10.8"/><circle cx="1565.2" cy="266.8" r="10.8"/><circle cx="1571.5" cy="265.4" r="10.8"/><circle cx="1577.8" cy="265.8" r="10.8"/><circle cx="1584.1" cy="264.4" r="10.8"/><circle cx="1590.4" cy="268.1" r="10.8"/><circle cx="1596.7" cy="268.4" r="10.8"/><circle cx="1603.0" cy="264.2" r="10.8"/><circle cx="1609.2" cy="266.5" r="10.8"/><circle cx="1615.5" cy="266.5" r="10.8"/><circle cx="1621.8" cy="268.2" r="10.8"/><circle cx="1628.1" cy="266.5" r="10.8"/><circle cx="1634.4" cy="267.0" r="10.8"/><circle cx="1640.7" cy="267.1" r="10.8"/><circle cx="1647.0" cy="265.6" r="10.8"/><circle cx="1653.3" cy="268.2" r="10.8"/><circle cx="1659.6" cy="267.0" r="10.8"/><circle cx="1665.9" cy="269.5" r="10.8"/><circle cx="1672.2" cy="266.7" r="10.8"/><circle cx="1678.5" cy="268.7" r="10.8"/><circle cx="1684.8" cy="264.8" r="10.8"/><circle cx="1691.0" cy="269.0" r="10.8"/><circle cx="1697.3" cy="265.1" r="10.8"/><circle cx="1703.6" cy="268.4" r="10.8"/><circle cx="1709.9" cy="269.4" r="10.8"/><circle cx="1716.2" cy="267.0" r="10.8"/><circle cx="1722.5" cy="267.0" r="10.8"/><circle cx="1728.8" cy="268.5" r="10.8"/></g>
<g fill="none" stroke="#e03c2c" stroke-width="1.6"><circle cx="1061.8" cy="97.6" r="10.8"/><circle cx="1068.1" cy="99.5" r="10.8"/><circle cx="1074.4" cy="98.1" r="10.8"/><circle cx="1080.7" cy="100.2" r="10.8"/><circle cx="1087.0" cy="102.0" r="10.8"/><circle cx="1093.3" cy="104.1" r="10.8"/><circle cx="1099.6" cy="103.1" r="10.8"/><circle cx="1105.8" cy="105.1" r="10.8"/><circle cx="1112.1" cy="109.3" r="10.8"/><circle cx="1118.4" cy="108.5" r="10.8"/><circle cx="1124.7" cy="109.8" r="10.8"/><circle cx="1131.0" cy="110.0" r="10.8"/><circle cx="1137.3" cy="113.1" r="10.8"/><circle cx="1143.6" cy="116.3" r="10.8"/><circle cx="1149.9" cy="119.3" r="10.8"/><circle cx="1156.2" cy="119.7" r="10.8"/><circle cx="1162.5" cy="121.1" r="10.8"/><circle cx="1168.8" cy="124.6" r="10.8"/><circle cx="1175.1" cy="128.9" r="10.8"/><circle cx="1181.4" cy="131.6" r="10.8"/><circle cx="1187.6" cy="142.0" r="10.8"/><circle cx="1193.9" cy="134.1" r="10.8"/><circle cx="1200.2" cy="133.7" r="10.8"/><circle cx="1206.5" cy="136.4" r="10.8"/><circle cx="1212.8" cy="137.2" r="10.8"/><circle cx="1219.1" cy="137.2" r="10.8"/><circle cx="1225.4" cy="140.2" r="10.8"/><circle cx="1231.7" cy="139.5" r="10.8"/><circle cx="1238.0" cy="142.1" r="10.8"/><circle cx="1244.3" cy="142.0" r="10.8"/><circle cx="1250.6" cy="144.6" r="10.8"/><circle cx="1256.9" cy="143.4" r="10.8"/><circle cx="1263.2" cy="142.0" r="10.8"/><circle cx="1269.5" cy="146.0" r="10.8"/><circle cx="1275.7" cy="142.4" r="10.8"/><circle cx="1282.0" cy="147.6" r="10.8"/><circle cx="1288.3" cy="145.5" r="10.8"/><circle cx="1294.6" cy="145.0" r="10.8"/><circle cx="1300.9" cy="147.2" r="10.8"/><circle cx="1307.2" cy="146.5" r="10.8"/><circle cx="1313.5" cy="145.8" r="10.8"/><circle cx="1319.8" cy="147.3" r="10.8"/><circle cx="1326.1" cy="150.5" r="10.8"/><circle cx="1332.4" cy="146.9" r="10.8"/><circle cx="1338.7" cy="146.8" r="10.8"/><circle cx="1345.0" cy="148.1" r="10.8"/><circle cx="1351.3" cy="148.4" r="10.8"/><circle cx="1357.5" cy="148.4" r="10.8"/><circle cx="1363.8" cy="150.5" r="10.8"/><circle cx="1370.1" cy="148.7" r="10.8"/><circle cx="1376.4" cy="145.7" r="10.8"/><circle cx="1382.7" cy="146.5" r="10.8"/><circle cx="1389.0" cy="146.8" r="10.8"/><circle cx="1395.3" cy="148.2" r="10.8"/><circle cx="1401.6" cy="148.1" r="10.8"/><circle cx="1407.9" cy="146.9" r="10.8"/><circle cx="1414.2" cy="147.6" r="10.8"/><circle cx="1420.5" cy="147.7" r="10.8"/><circle cx="1426.8" cy="148.6" r="10.8"/><circle cx="1433.1" cy="147.2" r="10.8"/><circle cx="1439.3" cy="148.9" r="10.8"/><circle cx="1445.6" cy="148.3" r="10.8"/><circle cx="1451.9" cy="146.9" r="10.8"/><circle cx="1458.2" cy="150.6" r="10.8"/><circle cx="1464.5" cy="147.5" r="10.8"/><circle cx="1470.8" cy="149.6" r="10.8"/><circle cx="1477.1" cy="151.6" r="10.8"/><circle cx="1483.4" cy="150.0" r="10.8"/><circle cx="1489.7" cy="150.1" r="10.8"/><circle cx="1496.0" cy="147.5" r="10.8"/><circle cx="1502.3" cy="147.6" r="10.8"/><circle cx="1508.6" cy="146.1" r="10.8"/><circle cx="1514.9" cy="149.9" r="10.8"/><circle cx="1521.1" cy="149.9" r="10.8"/><circle cx="1527.4" cy="149.9" r="10.8"/><circle cx="1533.7" cy="147.8" r="10.8"/><circle cx="1540.0" cy="149.2" r="10.8"/><circle cx="1546.3" cy="150.2" r="10.8"/><circle cx="1552.6" cy="151.6" r="10.8"/><circle cx="1558.9" cy="148.0" r="10.8"/><circle cx="1565.2" cy="153.0" r="10.8"/><circle cx="1571.5" cy="151.3" r="10.8"/><circle cx="1577.8" cy="151.4" r="10.8"/><circle cx="1584.1" cy="150.3" r="10.8"/><circle cx="1590.4" cy="152.9" r="10.8"/><circle cx="1596.7" cy="149.4" r="10.8"/><circle cx="1603.0" cy="151.3" r="10.8"/><circle cx="1609.2" cy="152.5" r="10.8"/><circle cx="1615.5" cy="152.1" r="10.8"/><circle cx="1621.8" cy="151.2" r="10.8"/><circle cx="1628.1" cy="151.9" r="10.8"/><circle cx="1634.4" cy="150.0" r="10.8"/><circle cx="1640.7" cy="152.5" r="10.8"/><circle cx="1647.0" cy="150.6" r="10.8"/><circle cx="1653.3" cy="148.5" r="10.8"/><circle cx="1659.6" cy="150.8" r="10.8"/><circle cx="1665.9" cy="149.8" r="10.8"/><circle cx="1672.2" cy="150.0" r="10.8"/><circle cx="1678.5" cy="153.8" r="10.8"/><circle cx="1684.8" cy="150.0" r="10.8"/><circle cx="1691.0" cy="152.0" r="10.8"/><circle cx="1697.3" cy="151.0" r="10.8"/><circle cx="1703.6" cy="151.0" r="10.8"/><circle cx="1709.9" cy="152.1" r="10.8"/><circle cx="1716.2" cy="152.7" r="10.8"/><circle cx="1722.5" cy="155.0" r="10.8"/><circle cx="1728.8" cy="152.5" r="10.8"/></g>
<text transform="translate(0 70.10) scale(1 0.980)" x="1335.13" y="0" font-size="34.00" textLength="442.19" lengthAdjust="spacingAndGlyphs" fill="#111" stroke="#111" stroke-width="0.3">+ protesome inhibitor MG132</text>
<line x1="1348.20" y1="78.90" x2="1313.39" y2="113.18" stroke="#000" stroke-width="1.80"/>
<polygon points="1302.7,123.7 1309.6,106.4 1320.1,117.1" fill="#000"/>
<circle cx="1045.8" cy="679.3" r="14.2" fill="none" stroke="#e03c2c" stroke-width="3.1"/>
<circle cx="1475.5" cy="679.3" r="14.2" fill="none" stroke="#4cc24c" stroke-width="3.1"/>
<circle cx="1049.0" cy="770.4" r="14.2" fill="none" stroke="#e89437" stroke-width="3.1"/>
<circle cx="1473.2" cy="770.4" r="14.2" fill="none" stroke="#4864be" stroke-width="3.1"/>
<text transform="translate(0 677.10) scale(1 1.060)" x="1078.66" y="0" font-size="33.50" textLength="319.05" lengthAdjust="spacingAndGlyphs" fill="#000" stroke="#000" stroke-width="0.3">TXNL1+FAT10+Nub1</text>
<text transform="translate(0 717.50) scale(1 1.060)" x="1077.86" y="0" font-size="33.50" fill="#000" stroke="#000" stroke-width="0.3">+hs26S+MG132</text>
<text transform="translate(0 677.10) scale(1 1.060)" x="1512.36" y="0" font-size="33.50" textLength="319.05" lengthAdjust="spacingAndGlyphs" fill="#000" stroke="#000" stroke-width="0.3">TXNL1+FAT10+Nub1</text>
<text transform="translate(0 717.50) scale(1 1.060)" x="1511.46" y="0" font-size="33.50" fill="#000" stroke="#000" stroke-width="0.3">+hs26S</text>
<text transform="translate(0 783.10) scale(1 1.060)" x="1077.75" y="0" font-size="33.50" textLength="345.62" lengthAdjust="spacingAndGlyphs" fill="#000" stroke="#000" stroke-width="0.3">TXNL1+hs26S+MG132</text>
<text transform="translate(0 783.10) scale(1 1.060)" x="1513.76" y="0" font-size="33.50" textLength="319.05" lengthAdjust="spacingAndGlyphs" fill="#000" stroke="#000" stroke-width="0.3">TXNL1+FAT10+Nub1</text>
<line x1="179.90" y1="997.74" x2="179.90" y2="1444.30" stroke="#000" stroke-width="1.80"/>
<line x1="162.20" y1="1443.40" x2="736.70" y2="1443.40" stroke="#000" stroke-width="1.80"/>
<line x1="162.20" y1="1332.21" x2="179.90" y2="1332.21" stroke="#000" stroke-width="1.80"/>
<line x1="162.20" y1="1221.02" x2="179.90" y2="1221.02" stroke="#000" stroke-width="1.80"/>
<line x1="162.20" y1="1109.83" x2="179.90" y2="1109.83" stroke="#000" stroke-width="1.80"/>
<line x1="162.20" y1="998.64" x2="179.90" y2="998.64" stroke="#000" stroke-width="1.80"/>
<line x1="179.90" y1="1443.40" x2="179.90" y2="1460.50" stroke="#000" stroke-width="1.80"/>
<line x1="291.08" y1="1443.40" x2="291.08" y2="1460.50" stroke="#000" stroke-width="1.80"/>
<line x1="402.26" y1="1443.40" x2="402.26" y2="1460.50" stroke="#000" stroke-width="1.80"/>
<line x1="513.44" y1="1443.40" x2="513.44" y2="1460.50" stroke="#000" stroke-width="1.80"/>
<line x1="624.62" y1="1443.40" x2="624.62" y2="1460.50" stroke="#000" stroke-width="1.80"/>
<line x1="735.80" y1="1443.40" x2="735.80" y2="1460.50" stroke="#000" stroke-width="1.80"/>
<text transform="translate(0 1455.40) scale(1 1.020)" x="135.12" y="0" font-size="34.00" fill="#000" stroke="#000" stroke-width="0.3">0</text>
<text transform="translate(0 1344.21) scale(1 1.020)" x="97.30" y="0" font-size="34.00" fill="#000" stroke="#000" stroke-width="0.3">100</text>
<text transform="translate(0 1233.02) scale(1 1.020)" x="97.30" y="0" font-size="34.00" fill="#000" stroke="#000" stroke-width="0.3">200</text>
<text transform="translate(0 1121.83) scale(1 1.020)" x="97.30" y="0" font-size="34.00" fill="#000" stroke="#000" stroke-width="0.3">300</text>
<text transform="translate(0 1010.64) scale(1 1.020)" x="97.30" y="0" font-size="34.00" fill="#000" stroke="#000" stroke-width="0.3">400</text>
<text transform="translate(0 1499.80) scale(1 1.020)" x="171.25" y="0" font-size="34.00" fill="#000" stroke="#000" stroke-width="0.3">0</text>
<text transform="translate(0 1499.80) scale(1 1.020)" x="263.53" y="0" font-size="34.00" fill="#000" stroke="#000" stroke-width="0.3">300</text>
<text transform="translate(0 1499.80) scale(1 1.020)" x="374.50" y="0" font-size="34.00" fill="#000" stroke="#000" stroke-width="0.3">600</text>
<text transform="translate(0 1499.80) scale(1 1.020)" x="485.74" y="0" font-size="34.00" fill="#000" stroke="#000" stroke-width="0.3">900</text>
<text transform="translate(0 1499.80) scale(1 1.020)" x="586.97" y="0" font-size="34.00" fill="#000" stroke="#000" stroke-width="0.3">1200</text>
<text transform="translate(0 1499.80) scale(1 1.020)" x="698.15" y="0" font-size="34.00" fill="#000" stroke="#000" stroke-width="0.3">1500</text>
<text transform="translate(0 1552.00) scale(1 1.060)" x="464.18" y="0" font-size="36.00" textLength="133.07" lengthAdjust="spacingAndGlyphs" fill="#000" stroke="#000" stroke-width="0.3">Time (s)</text>
<text transform="translate(82.70 0) rotate(-90) scale(1 1.060)" x="-1350.14" y="0" font-size="34.50" textLength="265.59" lengthAdjust="spacingAndGlyphs" fill="#000" stroke="#000" stroke-width="0.3">Polarization (mP)</text>
<text transform="translate(0 958.90)" x="360.44" y="0" font-size="34.00" textLength="311.37" lengthAdjust="spacingAndGlyphs" fill="#1a1a1a" stroke="#1a1a1a" stroke-width="0.3">Titrating proteasome</text>
<text transform="translate(0 1066.60) scale(1 1.060)" x="223.87" y="0" font-size="36.00" textLength="432.77" lengthAdjust="spacingAndGlyphs" fill="#1a1a1a" stroke="#1a1a1a" stroke-width="0.3">FAM-TXNL1+FAT10+Nub1</text>
<text transform="translate(0 1066.60) scale(1 1.060)" x="702.82" y="0" font-size="36.00" textLength="181.75" lengthAdjust="spacingAndGlyphs" fill="#1a1a1a" stroke="#1a1a1a" stroke-width="0.3">+ 26S (nM)</text>
<g fill="#000000" stroke="none"><rect x="172.2" y="1112.4" width="14.6" height="14.6"/><rect x="180.3" y="1114.0" width="14.6" height="14.6"/><rect x="188.5" y="1115.4" width="14.6" height="14.6"/><rect x="196.6" y="1117.5" width="14.6" height="14.6"/><rect x="204.8" y="1118.7" width="14.6" height="14.6"/><rect x="212.9" y="1120.7" width="14.6" height="14.6"/><rect x="221.0" y="1122.3" width="14.6" height="14.6"/><rect x="229.2" y="1123.3" width="14.6" height="14.6"/><rect x="237.3" y="1127.1" width="14.6" height="14.6"/><rect x="245.5" y="1129.2" width="14.6" height="14.6"/><rect x="253.6" y="1131.4" width="14.6" height="14.6"/><rect x="261.7" y="1134.0" width="14.6" height="14.6"/><rect x="269.9" y="1136.5" width="14.6" height="14.6"/><rect x="278.0" y="1138.5" width="14.6" height="14.6"/><rect x="286.1" y="1139.3" width="14.6" height="14.6"/><rect x="294.3" y="1142.2" width="14.6" height="14.6"/><rect x="302.4" y="1145.0" width="14.6" height="14.6"/><rect x="310.6" y="1145.0" width="14.6" height="14.6"/><rect x="318.7" y="1146.0" width="14.6" height="14.6"/><rect x="326.8" y="1146.8" width="14.6" height="14.6"/><rect x="335.0" y="1147.6" width="14.6" height="14.6"/><rect x="343.1" y="1147.0" width="14.6" height="14.6"/><rect x="351.3" y="1147.3" width="14.6" height="14.6"/><rect x="359.4" y="1149.0" width="14.6" height="14.6"/><rect x="367.5" y="1149.3" width="14.6" height="14.6"/><rect x="375.7" y="1149.7" width="14.6" height="14.6"/><rect x="383.8" y="1150.4" width="14.6" height="14.6"/><rect x="392.0" y="1150.6" width="14.6" height="14.6"/><rect x="400.1" y="1151.0" width="14.6" height="14.6"/><rect x="408.2" y="1152.1" width="14.6" height="14.6"/><rect x="416.4" y="1152.3" width="14.6" height="14.6"/><rect x="424.5" y="1152.9" width="14.6" height="14.6"/><rect x="432.6" y="1153.3" width="14.6" height="14.6"/><rect x="440.8" y="1154.4" width="14.6" height="14.6"/><rect x="448.9" y="1155.0" width="14.6" height="14.6"/><rect x="457.1" y="1155.2" width="14.6" height="14.6"/><rect x="465.2" y="1155.5" width="14.6" height="14.6"/><rect x="473.3" y="1156.6" width="14.6" height="14.6"/><rect x="481.5" y="1156.9" width="14.6" height="14.6"/><rect x="489.6" y="1157.3" width="14.6" height="14.6"/><rect x="497.8" y="1157.1" width="14.6" height="14.6"/><rect x="505.9" y="1157.6" width="14.6" height="14.6"/><rect x="514.0" y="1158.3" width="14.6" height="14.6"/><rect x="522.2" y="1157.5" width="14.6" height="14.6"/><rect x="530.3" y="1159.0" width="14.6" height="14.6"/><rect x="538.5" y="1159.4" width="14.6" height="14.6"/><rect x="546.6" y="1159.8" width="14.6" height="14.6"/><rect x="554.7" y="1159.1" width="14.6" height="14.6"/><rect x="562.9" y="1159.4" width="14.6" height="14.6"/><rect x="571.0" y="1160.9" width="14.6" height="14.6"/><rect x="579.2" y="1160.7" width="14.6" height="14.6"/><rect x="587.3" y="1160.9" width="14.6" height="14.6"/><rect x="595.4" y="1162.4" width="14.6" height="14.6"/><rect x="603.6" y="1163.0" width="14.6" height="14.6"/><rect x="611.7" y="1163.1" width="14.6" height="14.6"/><rect x="619.8" y="1161.2" width="14.6" height="14.6"/><rect x="628.0" y="1162.6" width="14.6" height="14.6"/><rect x="636.1" y="1162.9" width="14.6" height="14.6"/><rect x="644.3" y="1163.4" width="14.6" height="14.6"/><rect x="652.4" y="1163.8" width="14.6" height="14.6"/><rect x="660.5" y="1162.7" width="14.6" height="14.6"/><rect x="668.7" y="1164.5" width="14.6" height="14.6"/><rect x="676.8" y="1164.1" width="14.6" height="14.6"/><rect x="685.0" y="1163.2" width="14.6" height="14.6"/><rect x="693.1" y="1164.8" width="14.6" height="14.6"/><rect x="701.2" y="1164.7" width="14.6" height="14.6"/><rect x="709.4" y="1164.8" width="14.6" height="14.6"/><rect x="717.5" y="1165.3" width="14.6" height="14.6"/></g>
<g fill="#8dcfe4" stroke="none"><circle cx="179.5" cy="1143.4" r="7.6"/><circle cx="187.6" cy="1142.6" r="7.6"/><circle cx="195.8" cy="1142.7" r="7.6"/><circle cx="203.9" cy="1142.8" r="7.6"/><circle cx="212.1" cy="1142.3" r="7.6"/><circle cx="220.2" cy="1142.3" r="7.6"/><circle cx="228.3" cy="1141.8" r="7.6"/><circle cx="236.5" cy="1141.8" r="7.6"/><circle cx="244.6" cy="1143.0" r="7.6"/><circle cx="252.8" cy="1143.3" r="7.6"/><circle cx="260.9" cy="1143.4" r="7.6"/><circle cx="269.0" cy="1142.2" r="7.6"/><circle cx="277.2" cy="1142.8" r="7.6"/><circle cx="285.3" cy="1144.2" r="7.6"/><circle cx="293.4" cy="1145.5" r="7.6"/><circle cx="301.6" cy="1146.2" r="7.6"/><circle cx="309.7" cy="1146.5" r="7.6"/><circle cx="317.9" cy="1147.7" r="7.6"/><circle cx="326.0" cy="1148.5" r="7.6"/><circle cx="334.1" cy="1148.5" r="7.6"/><circle cx="342.3" cy="1149.2" r="7.6"/><circle cx="350.4" cy="1151.1" r="7.6"/><circle cx="358.6" cy="1151.6" r="7.6"/><circle cx="366.7" cy="1153.3" r="7.6"/><circle cx="374.8" cy="1154.3" r="7.6"/><circle cx="383.0" cy="1155.9" r="7.6"/><circle cx="391.1" cy="1157.2" r="7.6"/><circle cx="399.3" cy="1158.7" r="7.6"/><circle cx="407.4" cy="1158.9" r="7.6"/><circle cx="415.5" cy="1160.5" r="7.6"/><circle cx="423.7" cy="1162.8" r="7.6"/><circle cx="431.8" cy="1162.9" r="7.6"/><circle cx="439.9" cy="1163.0" r="7.6"/><circle cx="448.1" cy="1166.1" r="7.6"/><circle cx="456.2" cy="1166.6" r="7.6"/><circle cx="464.4" cy="1168.3" r="7.6"/><circle cx="472.5" cy="1168.1" r="7.6"/><circle cx="480.6" cy="1168.7" r="7.6"/><circle cx="488.8" cy="1168.9" r="7.6"/><circle cx="496.9" cy="1170.9" r="7.6"/><circle cx="505.1" cy="1170.8" r="7.6"/><circle cx="513.2" cy="1172.6" r="7.6"/><circle cx="521.3" cy="1173.1" r="7.6"/><circle cx="529.5" cy="1173.9" r="7.6"/><circle cx="537.6" cy="1176.0" r="7.6"/><circle cx="545.8" cy="1176.5" r="7.6"/><circle cx="553.9" cy="1178.0" r="7.6"/><circle cx="562.0" cy="1177.6" r="7.6"/><circle cx="570.2" cy="1179.2" r="7.6"/><circle cx="578.3" cy="1180.1" r="7.6"/><circle cx="586.5" cy="1181.3" r="7.6"/><circle cx="594.6" cy="1183.0" r="7.6"/><circle cx="602.7" cy="1183.4" r="7.6"/><circle cx="610.9" cy="1184.6" r="7.6"/><circle cx="619.0" cy="1185.8" r="7.6"/><circle cx="627.1" cy="1185.6" r="7.6"/><circle cx="635.3" cy="1184.9" r="7.6"/><circle cx="643.4" cy="1185.2" r="7.6"/><circle cx="651.6" cy="1186.6" r="7.6"/><circle cx="659.7" cy="1186.8" r="7.6"/><circle cx="667.8" cy="1188.2" r="7.6"/><circle cx="676.0" cy="1187.5" r="7.6"/><circle cx="684.1" cy="1188.4" r="7.6"/><circle cx="692.3" cy="1188.4" r="7.6"/><circle cx="700.4" cy="1187.7" r="7.6"/><circle cx="708.5" cy="1189.3" r="7.6"/><circle cx="716.7" cy="1187.8" r="7.6"/><circle cx="724.8" cy="1189.1" r="7.6"/></g>
<g fill="#a083cb" stroke="none"><polygon points="179.5,1173.5 186.0,1180.0 179.5,1186.5 173.0,1180.0"/><polygon points="187.6,1170.6 194.1,1177.1 187.6,1183.6 181.1,1177.1"/><polygon points="195.8,1166.9 202.3,1173.4 195.8,1179.9 189.3,1173.4"/><polygon points="203.9,1165.3 210.4,1171.8 203.9,1178.3 197.4,1171.8"/><polygon points="212.1,1164.1 218.6,1170.6 212.1,1177.1 205.6,1170.6"/><polygon points="220.2,1162.8 226.7,1169.3 220.2,1175.8 213.7,1169.3"/><polygon points="228.3,1162.1 234.8,1168.6 228.3,1175.1 221.8,1168.6"/><polygon points="236.5,1160.1 243.0,1166.6 236.5,1173.1 230.0,1166.6"/><polygon points="244.6,1160.4 251.1,1166.9 244.6,1173.4 238.1,1166.9"/><polygon points="252.8,1159.3 259.3,1165.8 252.8,1172.3 246.3,1165.8"/><polygon points="260.9,1159.2 267.4,1165.7 260.9,1172.2 254.4,1165.7"/><polygon points="269.0,1159.4 275.5,1165.9 269.0,1172.4 262.5,1165.9"/><polygon points="277.2,1159.0 283.7,1165.5 277.2,1172.0 270.7,1165.5"/><polygon points="285.3,1158.4 291.8,1164.9 285.3,1171.4 278.8,1164.9"/><polygon points="293.4,1159.6 299.9,1166.1 293.4,1172.6 286.9,1166.1"/><polygon points="301.6,1160.3 308.1,1166.8 301.6,1173.3 295.1,1166.8"/><polygon points="309.7,1159.6 316.2,1166.1 309.7,1172.6 303.2,1166.1"/><polygon points="317.9,1158.6 324.4,1165.1 317.9,1171.6 311.4,1165.1"/><polygon points="326.0,1159.6 332.5,1166.1 326.0,1172.6 319.5,1166.1"/><polygon points="334.1,1158.8 340.6,1165.3 334.1,1171.8 327.6,1165.3"/><polygon points="342.3,1158.2 348.8,1164.7 342.3,1171.2 335.8,1164.7"/><polygon points="350.4,1158.6 356.9,1165.1 350.4,1171.6 343.9,1165.1"/><polygon points="358.6,1160.2 365.1,1166.7 358.6,1173.2 352.1,1166.7"/><polygon points="366.7,1159.0 373.2,1165.5 366.7,1172.0 360.2,1165.5"/><polygon points="374.8,1159.7 381.3,1166.2 374.8,1172.7 368.3,1166.2"/><polygon points="383.0,1159.6 389.5,1166.1 383.0,1172.6 376.5,1166.1"/><polygon points="391.1,1160.3 397.6,1166.8 391.1,1173.3 384.6,1166.8"/><polygon points="399.3,1159.6 405.8,1166.1 399.3,1172.6 392.8,1166.1"/><polygon points="407.4,1159.4 413.9,1165.9 407.4,1172.4 400.9,1165.9"/><polygon points="415.5,1160.3 422.0,1166.8 415.5,1173.3 409.0,1166.8"/><polygon points="423.7,1161.0 430.2,1167.5 423.7,1174.0 417.2,1167.5"/><polygon points="431.8,1161.0 438.3,1167.5 431.8,1174.0 425.3,1167.5"/><polygon points="439.9,1159.5 446.4,1166.0 439.9,1172.5 433.4,1166.0"/><polygon points="448.1,1160.7 454.6,1167.2 448.1,1173.7 441.6,1167.2"/><polygon points="456.2,1161.2 462.7,1167.7 456.2,1174.2 449.7,1167.7"/><polygon points="464.4,1160.9 470.9,1167.4 464.4,1173.9 457.9,1167.4"/><polygon points="472.5,1162.3 479.0,1168.8 472.5,1175.3 466.0,1168.8"/><polygon points="480.6,1162.6 487.1,1169.1 480.6,1175.6 474.1,1169.1"/><polygon points="488.8,1163.6 495.3,1170.1 488.8,1176.6 482.3,1170.1"/><polygon points="496.9,1163.3 503.4,1169.8 496.9,1176.3 490.4,1169.8"/><polygon points="505.1,1164.0 511.6,1170.5 505.1,1177.0 498.6,1170.5"/><polygon points="513.2,1163.7 519.7,1170.2 513.2,1176.7 506.7,1170.2"/><polygon points="521.3,1165.1 527.8,1171.6 521.3,1178.1 514.8,1171.6"/><polygon points="529.5,1165.9 536.0,1172.4 529.5,1178.9 523.0,1172.4"/><polygon points="537.6,1166.8 544.1,1173.3 537.6,1179.8 531.1,1173.3"/><polygon points="545.8,1166.4 552.3,1172.9 545.8,1179.4 539.3,1172.9"/><polygon points="553.9,1167.7 560.4,1174.2 553.9,1180.7 547.4,1174.2"/><polygon points="562.0,1167.5 568.5,1174.0 562.0,1180.5 555.5,1174.0"/><polygon points="570.2,1168.1 576.7,1174.6 570.2,1181.1 563.7,1174.6"/><polygon points="578.3,1167.2 584.8,1173.7 578.3,1180.2 571.8,1173.7"/><polygon points="586.5,1168.9 593.0,1175.4 586.5,1181.9 580.0,1175.4"/><polygon points="594.6,1169.5 601.1,1176.0 594.6,1182.5 588.1,1176.0"/><polygon points="602.7,1168.9 609.2,1175.4 602.7,1181.9 596.2,1175.4"/><polygon points="610.9,1169.3 617.4,1175.8 610.9,1182.3 604.4,1175.8"/><polygon points="619.0,1169.7 625.5,1176.2 619.0,1182.7 612.5,1176.2"/><polygon points="627.1,1169.3 633.6,1175.8 627.1,1182.3 620.6,1175.8"/><polygon points="635.3,1169.6 641.8,1176.1 635.3,1182.6 628.8,1176.1"/><polygon points="643.4,1170.0 649.9,1176.5 643.4,1183.0 636.9,1176.5"/><polygon points="651.6,1169.5 658.1,1176.0 651.6,1182.5 645.1,1176.0"/><polygon points="659.7,1170.9 666.2,1177.4 659.7,1183.9 653.2,1177.4"/><polygon points="667.8,1169.9 674.3,1176.4 667.8,1182.9 661.3,1176.4"/><polygon points="676.0,1170.9 682.5,1177.4 676.0,1183.9 669.5,1177.4"/><polygon points="684.1,1170.3 690.6,1176.8 684.1,1183.3 677.6,1176.8"/><polygon points="692.3,1172.1 698.8,1178.6 692.3,1185.1 685.8,1178.6"/><polygon points="700.4,1170.9 706.9,1177.4 700.4,1183.9 693.9,1177.4"/><polygon points="708.5,1170.2 715.0,1176.7 708.5,1183.2 702.0,1176.7"/><polygon points="716.7,1170.0 723.2,1176.5 716.7,1183.0 710.2,1176.5"/><polygon points="724.8,1170.6 731.3,1177.1 724.8,1183.6 718.3,1177.1"/></g>
<g fill="#5a2ca0" stroke="none"><polygon points="179.5,1207.1 173.0,1194.8 186.0,1194.8"/><polygon points="187.6,1201.6 181.1,1189.2 194.1,1189.2"/><polygon points="195.8,1198.1 189.3,1185.8 202.3,1185.8"/><polygon points="203.9,1195.7 197.4,1183.3 210.4,1183.3"/><polygon points="212.1,1194.0 205.6,1181.6 218.6,1181.6"/><polygon points="220.2,1193.1 213.7,1180.8 226.7,1180.8"/><polygon points="228.3,1190.9 221.8,1178.6 234.8,1178.6"/><polygon points="236.5,1189.3 230.0,1177.0 243.0,1177.0"/><polygon points="244.6,1188.8 238.1,1176.5 251.1,1176.5"/><polygon points="252.8,1188.0 246.3,1175.7 259.3,1175.7"/><polygon points="260.9,1187.3 254.4,1174.9 267.4,1174.9"/><polygon points="269.0,1187.7 262.5,1175.3 275.5,1175.3"/><polygon points="277.2,1187.5 270.7,1175.2 283.7,1175.2"/><polygon points="285.3,1187.1 278.8,1174.7 291.8,1174.7"/><polygon points="293.4,1186.7 286.9,1174.3 299.9,1174.3"/><polygon points="301.6,1185.3 295.1,1172.9 308.1,1172.9"/><polygon points="309.7,1187.2 303.2,1174.8 316.2,1174.8"/><polygon points="317.9,1185.2 311.4,1172.8 324.4,1172.8"/><polygon points="326.0,1186.3 319.5,1173.9 332.5,1173.9"/><polygon points="334.1,1185.3 327.6,1173.0 340.6,1173.0"/><polygon points="342.3,1184.9 335.8,1172.5 348.8,1172.5"/><polygon points="350.4,1185.4 343.9,1173.0 356.9,1173.0"/><polygon points="358.6,1184.5 352.1,1172.1 365.1,1172.1"/><polygon points="366.7,1183.9 360.2,1171.5 373.2,1171.5"/><polygon points="374.8,1184.8 368.3,1172.5 381.3,1172.5"/><polygon points="383.0,1184.0 376.5,1171.7 389.5,1171.7"/><polygon points="391.1,1185.4 384.6,1173.1 397.6,1173.1"/><polygon points="399.3,1185.3 392.8,1172.9 405.8,1172.9"/><polygon points="407.4,1184.7 400.9,1172.3 413.9,1172.3"/><polygon points="415.5,1186.0 409.0,1173.6 422.0,1173.6"/><polygon points="423.7,1186.2 417.2,1173.8 430.2,1173.8"/><polygon points="431.8,1185.3 425.3,1172.9 438.3,1172.9"/><polygon points="439.9,1185.7 433.4,1173.4 446.4,1173.4"/><polygon points="448.1,1185.1 441.6,1172.7 454.6,1172.7"/><polygon points="456.2,1186.6 449.7,1174.3 462.7,1174.3"/><polygon points="464.4,1186.0 457.9,1173.7 470.9,1173.7"/><polygon points="472.5,1185.8 466.0,1173.4 479.0,1173.4"/><polygon points="480.6,1186.2 474.1,1173.9 487.1,1173.9"/><polygon points="488.8,1186.3 482.3,1173.9 495.3,1173.9"/><polygon points="496.9,1187.0 490.4,1174.7 503.4,1174.7"/><polygon points="505.1,1186.8 498.6,1174.4 511.6,1174.4"/><polygon points="513.2,1187.4 506.7,1175.0 519.7,1175.0"/><polygon points="521.3,1187.5 514.8,1175.1 527.8,1175.1"/><polygon points="529.5,1186.9 523.0,1174.5 536.0,1174.5"/><polygon points="537.6,1188.2 531.1,1175.9 544.1,1175.9"/><polygon points="545.8,1187.7 539.3,1175.3 552.3,1175.3"/><polygon points="553.9,1187.7 547.4,1175.3 560.4,1175.3"/><polygon points="562.0,1187.8 555.5,1175.4 568.5,1175.4"/><polygon points="570.2,1188.8 563.7,1176.5 576.7,1176.5"/><polygon points="578.3,1187.5 571.8,1175.2 584.8,1175.2"/><polygon points="586.5,1187.5 580.0,1175.2 593.0,1175.2"/><polygon points="594.6,1188.5 588.1,1176.1 601.1,1176.1"/><polygon points="602.7,1188.7 596.2,1176.3 609.2,1176.3"/><polygon points="610.9,1188.6 604.4,1176.3 617.4,1176.3"/><polygon points="619.0,1189.6 612.5,1177.2 625.5,1177.2"/><polygon points="627.1,1188.6 620.6,1176.3 633.6,1176.3"/><polygon points="635.3,1188.8 628.8,1176.4 641.8,1176.4"/><polygon points="643.4,1189.2 636.9,1176.8 649.9,1176.8"/><polygon points="651.6,1189.0 645.1,1176.7 658.1,1176.7"/><polygon points="659.7,1189.8 653.2,1177.5 666.2,1177.5"/><polygon points="667.8,1188.9 661.3,1176.6 674.3,1176.6"/><polygon points="676.0,1188.9 669.5,1176.5 682.5,1176.5"/><polygon points="684.1,1191.0 677.6,1178.7 690.6,1178.7"/><polygon points="692.3,1190.4 685.8,1178.1 698.8,1178.1"/><polygon points="700.4,1189.9 693.9,1177.6 706.9,1177.6"/><polygon points="708.5,1190.7 702.0,1178.4 715.0,1178.4"/><polygon points="716.7,1191.1 710.2,1178.8 723.2,1178.8"/><polygon points="724.8,1190.8 718.3,1178.5 731.3,1178.5"/></g>
<g fill="#3f9e8d" stroke="none"><polygon points="179.5,1237.5 173.0,1249.9 186.0,1249.9"/><polygon points="187.6,1231.1 181.1,1243.5 194.1,1243.5"/><polygon points="195.8,1228.6 189.3,1240.9 202.3,1240.9"/><polygon points="203.9,1226.9 197.4,1239.3 210.4,1239.3"/><polygon points="212.1,1225.7 205.6,1238.0 218.6,1238.0"/><polygon points="220.2,1223.2 213.7,1235.6 226.7,1235.6"/><polygon points="228.3,1221.8 221.8,1234.2 234.8,1234.2"/><polygon points="236.5,1220.6 230.0,1233.0 243.0,1233.0"/><polygon points="244.6,1220.7 238.1,1233.1 251.1,1233.1"/><polygon points="252.8,1218.9 246.3,1231.2 259.3,1231.2"/><polygon points="260.9,1218.5 254.4,1230.8 267.4,1230.8"/><polygon points="269.0,1218.8 262.5,1231.1 275.5,1231.1"/><polygon points="277.2,1218.1 270.7,1230.4 283.7,1230.4"/><polygon points="285.3,1217.4 278.8,1229.7 291.8,1229.7"/><polygon points="293.4,1216.6 286.9,1229.0 299.9,1229.0"/><polygon points="301.6,1216.3 295.1,1228.6 308.1,1228.6"/><polygon points="309.7,1216.6 303.2,1228.9 316.2,1228.9"/><polygon points="317.9,1215.6 311.4,1228.0 324.4,1228.0"/><polygon points="326.0,1215.3 319.5,1227.6 332.5,1227.6"/><polygon points="334.1,1214.1 327.6,1226.5 340.6,1226.5"/><polygon points="342.3,1213.8 335.8,1226.2 348.8,1226.2"/><polygon points="350.4,1214.2 343.9,1226.6 356.9,1226.6"/><polygon points="358.6,1213.6 352.1,1226.0 365.1,1226.0"/><polygon points="366.7,1213.3 360.2,1225.6 373.2,1225.6"/><polygon points="374.8,1213.4 368.3,1225.7 381.3,1225.7"/><polygon points="383.0,1212.6 376.5,1224.9 389.5,1224.9"/><polygon points="391.1,1213.4 384.6,1225.8 397.6,1225.8"/><polygon points="399.3,1211.8 392.8,1224.2 405.8,1224.2"/><polygon points="407.4,1212.0 400.9,1224.3 413.9,1224.3"/><polygon points="415.5,1212.8 409.0,1225.1 422.0,1225.1"/><polygon points="423.7,1211.8 417.2,1224.2 430.2,1224.2"/><polygon points="431.8,1211.8 425.3,1224.2 438.3,1224.2"/><polygon points="439.9,1210.5 433.4,1222.8 446.4,1222.8"/><polygon points="448.1,1210.6 441.6,1222.9 454.6,1222.9"/><polygon points="456.2,1211.4 449.7,1223.7 462.7,1223.7"/><polygon points="464.4,1211.3 457.9,1223.6 470.9,1223.6"/><polygon points="472.5,1210.9 466.0,1223.3 479.0,1223.3"/><polygon points="480.6,1210.7 474.1,1223.1 487.1,1223.1"/><polygon points="488.8,1211.3 482.3,1223.6 495.3,1223.6"/><polygon points="496.9,1212.0 490.4,1224.3 503.4,1224.3"/><polygon points="505.1,1211.5 498.6,1223.8 511.6,1223.8"/><polygon points="513.2,1211.8 506.7,1224.2 519.7,1224.2"/><polygon points="521.3,1213.1 514.8,1225.5 527.8,1225.5"/><polygon points="529.5,1213.2 523.0,1225.5 536.0,1225.5"/><polygon points="537.6,1213.0 531.1,1225.3 544.1,1225.3"/><polygon points="545.8,1213.8 539.3,1226.2 552.3,1226.2"/><polygon points="553.9,1215.4 547.4,1227.8 560.4,1227.8"/><polygon points="562.0,1213.4 555.5,1225.7 568.5,1225.7"/><polygon points="570.2,1214.7 563.7,1227.0 576.7,1227.0"/><polygon points="578.3,1214.3 571.8,1226.6 584.8,1226.6"/><polygon points="586.5,1215.0 580.0,1227.4 593.0,1227.4"/><polygon points="594.6,1214.0 588.1,1226.4 601.1,1226.4"/><polygon points="602.7,1215.2 596.2,1227.5 609.2,1227.5"/><polygon points="610.9,1214.7 604.4,1227.0 617.4,1227.0"/><polygon points="619.0,1216.2 612.5,1228.6 625.5,1228.6"/><polygon points="627.1,1214.1 620.6,1226.4 633.6,1226.4"/><polygon points="635.3,1214.2 628.8,1226.6 641.8,1226.6"/><polygon points="643.4,1215.6 636.9,1227.9 649.9,1227.9"/><polygon points="651.6,1215.3 645.1,1227.7 658.1,1227.7"/><polygon points="659.7,1215.8 653.2,1228.1 666.2,1228.1"/><polygon points="667.8,1214.6 661.3,1226.9 674.3,1226.9"/><polygon points="676.0,1216.3 669.5,1228.7 682.5,1228.7"/><polygon points="684.1,1217.0 677.6,1229.4 690.6,1229.4"/><polygon points="692.3,1217.1 685.8,1229.5 698.8,1229.5"/><polygon points="700.4,1215.7 693.9,1228.1 706.9,1228.1"/><polygon points="708.5,1215.3 702.0,1227.6 715.0,1227.6"/><polygon points="716.7,1216.6 710.2,1229.0 723.2,1229.0"/><polygon points="724.8,1216.7 718.3,1229.0 731.3,1229.0"/></g>
<g fill="#e63a80" stroke="none"><rect x="172.8" y="1248.5" width="13.4" height="13.4"/><rect x="180.9" y="1247.8" width="13.4" height="13.4"/><rect x="189.1" y="1248.6" width="13.4" height="13.4"/><rect x="197.2" y="1246.1" width="13.4" height="13.4"/><rect x="205.4" y="1245.7" width="13.4" height="13.4"/><rect x="213.5" y="1245.0" width="13.4" height="13.4"/><rect x="221.6" y="1243.9" width="13.4" height="13.4"/><rect x="229.8" y="1242.9" width="13.4" height="13.4"/><rect x="237.9" y="1242.9" width="13.4" height="13.4"/><rect x="246.1" y="1241.2" width="13.4" height="13.4"/><rect x="254.2" y="1241.0" width="13.4" height="13.4"/><rect x="262.3" y="1241.1" width="13.4" height="13.4"/><rect x="270.5" y="1241.0" width="13.4" height="13.4"/><rect x="278.6" y="1240.0" width="13.4" height="13.4"/><rect x="286.7" y="1240.4" width="13.4" height="13.4"/><rect x="294.9" y="1239.4" width="13.4" height="13.4"/><rect x="303.0" y="1239.4" width="13.4" height="13.4"/><rect x="311.2" y="1237.7" width="13.4" height="13.4"/><rect x="319.3" y="1239.5" width="13.4" height="13.4"/><rect x="327.4" y="1237.8" width="13.4" height="13.4"/><rect x="335.6" y="1238.4" width="13.4" height="13.4"/><rect x="343.7" y="1238.1" width="13.4" height="13.4"/><rect x="351.9" y="1237.2" width="13.4" height="13.4"/><rect x="360.0" y="1236.4" width="13.4" height="13.4"/><rect x="368.1" y="1237.7" width="13.4" height="13.4"/><rect x="376.3" y="1238.8" width="13.4" height="13.4"/><rect x="384.4" y="1238.3" width="13.4" height="13.4"/><rect x="392.6" y="1238.8" width="13.4" height="13.4"/><rect x="400.7" y="1239.5" width="13.4" height="13.4"/><rect x="408.8" y="1238.6" width="13.4" height="13.4"/><rect x="417.0" y="1239.2" width="13.4" height="13.4"/><rect x="425.1" y="1237.7" width="13.4" height="13.4"/><rect x="433.2" y="1239.1" width="13.4" height="13.4"/><rect x="441.4" y="1239.6" width="13.4" height="13.4"/><rect x="449.5" y="1238.3" width="13.4" height="13.4"/><rect x="457.7" y="1239.3" width="13.4" height="13.4"/><rect x="465.8" y="1240.1" width="13.4" height="13.4"/><rect x="473.9" y="1240.7" width="13.4" height="13.4"/><rect x="482.1" y="1239.8" width="13.4" height="13.4"/><rect x="490.2" y="1239.6" width="13.4" height="13.4"/><rect x="498.4" y="1239.4" width="13.4" height="13.4"/><rect x="506.5" y="1239.4" width="13.4" height="13.4"/><rect x="514.6" y="1240.0" width="13.4" height="13.4"/><rect x="522.8" y="1240.5" width="13.4" height="13.4"/><rect x="530.9" y="1240.0" width="13.4" height="13.4"/><rect x="539.1" y="1239.9" width="13.4" height="13.4"/><rect x="547.2" y="1241.2" width="13.4" height="13.4"/><rect x="555.3" y="1241.0" width="13.4" height="13.4"/><rect x="563.5" y="1241.4" width="13.4" height="13.4"/><rect x="571.6" y="1241.5" width="13.4" height="13.4"/><rect x="579.8" y="1241.1" width="13.4" height="13.4"/><rect x="587.9" y="1241.6" width="13.4" height="13.4"/><rect x="596.0" y="1241.9" width="13.4" height="13.4"/><rect x="604.2" y="1241.5" width="13.4" height="13.4"/><rect x="612.3" y="1241.2" width="13.4" height="13.4"/><rect x="620.4" y="1241.2" width="13.4" height="13.4"/><rect x="628.6" y="1242.4" width="13.4" height="13.4"/><rect x="636.7" y="1243.4" width="13.4" height="13.4"/><rect x="644.9" y="1242.2" width="13.4" height="13.4"/><rect x="653.0" y="1242.4" width="13.4" height="13.4"/><rect x="661.1" y="1242.6" width="13.4" height="13.4"/><rect x="669.3" y="1241.7" width="13.4" height="13.4"/><rect x="677.4" y="1242.9" width="13.4" height="13.4"/><rect x="685.6" y="1242.9" width="13.4" height="13.4"/><rect x="693.7" y="1242.8" width="13.4" height="13.4"/><rect x="701.8" y="1244.1" width="13.4" height="13.4"/><rect x="710.0" y="1243.5" width="13.4" height="13.4"/><rect x="718.1" y="1243.9" width="13.4" height="13.4"/></g>
<g fill="#000000" stroke="none"><circle cx="179.5" cy="1278.7" r="7.0"/><circle cx="187.6" cy="1278.4" r="7.0"/><circle cx="195.8" cy="1278.8" r="7.0"/><circle cx="203.9" cy="1279.9" r="7.0"/><circle cx="212.1" cy="1278.5" r="7.0"/><circle cx="220.2" cy="1278.9" r="7.0"/><circle cx="228.3" cy="1279.5" r="7.0"/><circle cx="236.5" cy="1280.0" r="7.0"/><circle cx="244.6" cy="1279.4" r="7.0"/><circle cx="252.8" cy="1280.6" r="7.0"/><circle cx="260.9" cy="1280.0" r="7.0"/><circle cx="269.0" cy="1279.7" r="7.0"/><circle cx="277.2" cy="1280.2" r="7.0"/><circle cx="285.3" cy="1280.7" r="7.0"/><circle cx="293.4" cy="1280.8" r="7.0"/><circle cx="301.6" cy="1280.9" r="7.0"/><circle cx="309.7" cy="1280.2" r="7.0"/><circle cx="317.9" cy="1280.1" r="7.0"/><circle cx="326.0" cy="1281.1" r="7.0"/><circle cx="334.1" cy="1281.3" r="7.0"/><circle cx="342.3" cy="1281.7" r="7.0"/><circle cx="350.4" cy="1282.2" r="7.0"/><circle cx="358.6" cy="1282.0" r="7.0"/><circle cx="366.7" cy="1283.1" r="7.0"/><circle cx="374.8" cy="1282.5" r="7.0"/><circle cx="383.0" cy="1281.9" r="7.0"/><circle cx="391.1" cy="1281.7" r="7.0"/><circle cx="399.3" cy="1283.5" r="7.0"/><circle cx="407.4" cy="1282.9" r="7.0"/><circle cx="415.5" cy="1282.1" r="7.0"/><circle cx="423.7" cy="1282.9" r="7.0"/><circle cx="431.8" cy="1283.1" r="7.0"/><circle cx="439.9" cy="1283.0" r="7.0"/><circle cx="448.1" cy="1284.5" r="7.0"/><circle cx="456.2" cy="1283.6" r="7.0"/><circle cx="464.4" cy="1282.7" r="7.0"/><circle cx="472.5" cy="1284.2" r="7.0"/><circle cx="480.6" cy="1282.9" r="7.0"/><circle cx="488.8" cy="1284.0" r="7.0"/><circle cx="496.9" cy="1284.0" r="7.0"/><circle cx="505.1" cy="1284.3" r="7.0"/><circle cx="513.2" cy="1284.2" r="7.0"/><circle cx="521.3" cy="1284.8" r="7.0"/><circle cx="529.5" cy="1285.9" r="7.0"/><circle cx="537.6" cy="1283.9" r="7.0"/><circle cx="545.8" cy="1285.2" r="7.0"/><circle cx="553.9" cy="1284.6" r="7.0"/><circle cx="562.0" cy="1285.1" r="7.0"/><circle cx="570.2" cy="1284.7" r="7.0"/><circle cx="578.3" cy="1286.2" r="7.0"/><circle cx="586.5" cy="1286.4" r="7.0"/><circle cx="594.6" cy="1286.0" r="7.0"/><circle cx="602.7" cy="1285.9" r="7.0"/><circle cx="610.9" cy="1286.4" r="7.0"/><circle cx="619.0" cy="1287.2" r="7.0"/><circle cx="627.1" cy="1285.5" r="7.0"/><circle cx="635.3" cy="1286.7" r="7.0"/><circle cx="643.4" cy="1285.6" r="7.0"/><circle cx="651.6" cy="1286.8" r="7.0"/><circle cx="659.7" cy="1286.0" r="7.0"/><circle cx="667.8" cy="1287.3" r="7.0"/><circle cx="676.0" cy="1287.0" r="7.0"/><circle cx="684.1" cy="1286.6" r="7.0"/><circle cx="692.3" cy="1286.8" r="7.0"/><circle cx="700.4" cy="1287.2" r="7.0"/><circle cx="708.5" cy="1286.2" r="7.0"/><circle cx="716.7" cy="1286.9" r="7.0"/><circle cx="724.8" cy="1287.0" r="7.0"/></g>
<circle cx="779.8" cy="1095.8" r="7.5" fill="#000"/>
<rect x="772.3" y="1135.1" width="15" height="14.3" fill="#e63a80"/>
<polygon points="779.8,1175.2 772.5,1189.5 787.1,1189.5" fill="#3f9e8d"/>
<polygon points="779.8,1229.2 772.5,1214.7 787.1,1214.7" fill="#5a2ca0"/>
<polygon points="779.8,1254.8 787.1,1261.8 779.8,1268.7 772.5,1261.8" fill="#a083cb"/>
<circle cx="780.0" cy="1301.6" r="10.1" fill="#8dcfe4"/>
<rect x="769.9" y="1331.4" width="20.3" height="20.0" fill="#000"/>
<text transform="translate(0 1108.70) scale(1 1.060)" x="807.00" y="0" font-size="35.50" fill="#000" stroke="#000" stroke-width="0.3">15.6</text>
<text transform="translate(0 1155.70) scale(1 1.060)" x="808.35" y="0" font-size="35.50" fill="#000" stroke="#000" stroke-width="0.3">31.3</text>
<text transform="translate(0 1194.70) scale(1 1.060)" x="807.90" y="0" font-size="35.50" fill="#000" stroke="#000" stroke-width="0.3">62.5</text>
<text transform="translate(0 1234.00) scale(1 1.060)" x="807.00" y="0" font-size="35.50" fill="#000" stroke="#000" stroke-width="0.3">125</text>
<text transform="translate(0 1274.20) scale(1 1.060)" x="807.91" y="0" font-size="35.50" fill="#000" stroke="#000" stroke-width="0.3">250</text>
<text transform="translate(0 1314.30) scale(1 1.060)" x="808.28" y="0" font-size="35.50" fill="#000" stroke="#000" stroke-width="0.3">500</text>
<text transform="translate(0 1354.50) scale(1 1.060)" x="807.00" y="0" font-size="35.50" fill="#000" stroke="#000" stroke-width="0.3">1000</text>
<line x1="1099.00" y1="1008.69" x2="1099.00" y2="1456.80" stroke="#000" stroke-width="1.80"/>
<line x1="1081.00" y1="1455.90" x2="1783.80" y2="1455.90" stroke="#000" stroke-width="1.80"/>
<line x1="1081.00" y1="1307.13" x2="1099.00" y2="1307.13" stroke="#000" stroke-width="1.80"/>
<line x1="1081.00" y1="1158.36" x2="1099.00" y2="1158.36" stroke="#000" stroke-width="1.80"/>
<line x1="1081.00" y1="1009.59" x2="1099.00" y2="1009.59" stroke="#000" stroke-width="1.80"/>
<line x1="1099.00" y1="1455.90" x2="1099.00" y2="1473.20" stroke="#000" stroke-width="1.80"/>
<line x1="1235.78" y1="1455.90" x2="1235.78" y2="1473.20" stroke="#000" stroke-width="1.80"/>
<line x1="1372.56" y1="1455.90" x2="1372.56" y2="1473.20" stroke="#000" stroke-width="1.80"/>
<line x1="1509.34" y1="1455.90" x2="1509.34" y2="1473.20" stroke="#000" stroke-width="1.80"/>
<line x1="1646.12" y1="1455.90" x2="1646.12" y2="1473.20" stroke="#000" stroke-width="1.80"/>
<line x1="1782.90" y1="1455.90" x2="1782.90" y2="1473.20" stroke="#000" stroke-width="1.80"/>
<text transform="translate(0 1467.90)" x="1053.61" y="0" font-size="34.60" fill="#000" stroke="#000" stroke-width="0.3">0</text>
<text transform="translate(0 1319.13)" x="1015.12" y="0" font-size="34.60" fill="#000" stroke="#000" stroke-width="0.3">100</text>
<text transform="translate(0 1170.36)" x="1015.12" y="0" font-size="34.60" fill="#000" stroke="#000" stroke-width="0.3">200</text>
<text transform="translate(0 1021.59)" x="1015.12" y="0" font-size="34.60" fill="#000" stroke="#000" stroke-width="0.3">300</text>
<text transform="translate(0 1512.80)" x="1089.88" y="0" font-size="34.60" fill="#000" stroke="#000" stroke-width="0.3">0</text>
<text transform="translate(0 1512.80)" x="1207.22" y="0" font-size="34.60" fill="#000" stroke="#000" stroke-width="0.3">200</text>
<text transform="translate(0 1512.80)" x="1344.47" y="0" font-size="34.60" fill="#000" stroke="#000" stroke-width="0.3">400</text>
<text transform="translate(0 1512.80)" x="1480.77" y="0" font-size="34.60" fill="#000" stroke="#000" stroke-width="0.3">600</text>
<text transform="translate(0 1512.80)" x="1617.68" y="0" font-size="34.60" fill="#000" stroke="#000" stroke-width="0.3">800</text>
<text transform="translate(0 1512.80)" x="1744.27" y="0" font-size="34.60" fill="#000" stroke="#000" stroke-width="0.3">1000</text>
<text transform="translate(0 1565.70) scale(1 1.060)" x="1342.65" y="0" font-size="36.50" textLength="212.86" lengthAdjust="spacingAndGlyphs" fill="#000" stroke="#000" stroke-width="0.3">[hs26S] (nM)</text>
<text transform="translate(998.10 0) rotate(-90) scale(1 1.060)" x="-1360.09" y="0" font-size="34.00" fill="#000" stroke="#000" stroke-width="0.3">Polarization (mP)</text>
<text transform="translate(0 959.50)" x="1217.69" y="0" font-size="34.00" textLength="465.22" lengthAdjust="spacingAndGlyphs" fill="#1a1a1a" stroke="#1a1a1a" stroke-width="0.3">900 second time points plotted</text>
<polyline points="1099.00,1327.96 1099.17,1325.98 1099.35,1324.03 1099.52,1322.11 1099.69,1320.21 1099.87,1318.34 1100.04,1316.50 1100.21,1314.68 1100.39,1312.88 1100.56,1311.11 1100.73,1309.36 1100.90,1307.63 1101.08,1305.93 1101.25,1304.25 1101.42,1302.59 1101.60,1300.95 1101.77,1299.33 1101.94,1297.73 1102.12,1296.16 1102.29,1294.60 1102.46,1293.06 1102.64,1291.54 1102.81,1290.04 1102.98,1288.55 1103.16,1287.09 1103.33,1285.64 1103.50,1284.21 1103.67,1282.80 1103.85,1281.40 1104.02,1280.02 1104.19,1278.66 1104.37,1277.31 1104.54,1275.98 1104.71,1274.66 1104.89,1273.36 1105.06,1272.07 1105.23,1270.80 1105.41,1269.54 1105.58,1268.29 1105.75,1267.06 1105.93,1265.85 1106.10,1264.64 1106.27,1263.45 1106.44,1262.27 1106.62,1261.11 1106.79,1259.96 1106.96,1258.82 1107.14,1257.69 1107.31,1256.57 1107.48,1255.47 1107.66,1254.37 1107.83,1253.29 1108.00,1252.22 1108.18,1251.16 1108.35,1250.11 1108.52,1249.07 1108.70,1248.05 1108.87,1247.03 1109.04,1246.02 1109.22,1245.03 1109.39,1244.04 1109.56,1243.06 1109.73,1242.10 1109.91,1241.14 1110.08,1240.19 1110.25,1239.25 1110.43,1238.32 1110.60,1237.40 1110.77,1236.49 1110.95,1235.58 1111.12,1234.69 1111.29,1233.80 1111.47,1232.92 1111.64,1232.05 1111.81,1231.19 1111.99,1230.33 1112.16,1229.49 1112.33,1228.65 1112.50,1227.82 1112.68,1227.00 1114.36,1219.38 1116.04,1212.38 1117.72,1205.93 1119.40,1199.97 1121.08,1194.44 1122.76,1189.30 1124.44,1184.50 1126.12,1180.02 1127.80,1175.83 1129.48,1171.89 1131.16,1168.20 1132.84,1164.71 1134.51,1161.43 1136.19,1158.32 1137.87,1155.39 1139.55,1152.60 1141.23,1149.96 1142.91,1147.46 1144.59,1145.07 1146.27,1142.80 1147.95,1140.64 1149.63,1138.57 1151.31,1136.60 1152.99,1134.71 1154.67,1132.91 1156.35,1131.18 1158.03,1129.52 1159.71,1127.93 1161.39,1126.40 1163.07,1124.94 1164.75,1123.53 1166.43,1122.17 1168.11,1120.86 1169.79,1119.61 1171.47,1118.39 1173.15,1117.22 1174.83,1116.10 1176.51,1115.01 1178.19,1113.95 1179.87,1112.94 1181.55,1111.95 1183.23,1111.00 1184.91,1110.08 1186.59,1109.19 1188.27,1108.33 1189.95,1107.49 1191.63,1106.68 1193.31,1105.89 1194.99,1105.13 1196.67,1104.39 1198.35,1103.67 1200.03,1102.97 1201.70,1102.29 1203.38,1101.63 1205.06,1100.99 1206.74,1100.37 1208.42,1099.76 1210.10,1099.17 1211.78,1098.60 1213.46,1098.04 1215.14,1097.49 1216.82,1096.96 1218.50,1096.44 1220.18,1095.94 1221.86,1095.45 1223.54,1094.97 1225.22,1094.51 1226.90,1094.05 1228.58,1093.61 1230.26,1093.17 1231.94,1092.75 1233.62,1092.34 1235.30,1091.93 1236.98,1091.54 1238.66,1091.16 1240.34,1090.78 1242.02,1090.41 1243.70,1090.06 1245.38,1089.71 1247.06,1089.36 1248.74,1089.03 1250.42,1088.70 1252.10,1088.38 1253.78,1088.07 1255.46,1087.76 1257.14,1087.46 1258.82,1087.17 1260.50,1086.88 1262.18,1086.60 1263.86,1086.33 1265.54,1086.06 1267.22,1085.79 1268.90,1085.54 1270.57,1085.28 1272.25,1085.04 1273.93,1084.80 1275.61,1084.56 1277.29,1084.33 1278.97,1084.10 1280.65,1083.88 1282.33,1083.66 1284.01,1083.44 1285.69,1083.23 1287.37,1083.03 1289.05,1082.83 1290.73,1082.63 1292.41,1082.44 1294.09,1082.25 1295.77,1082.06 1297.45,1081.88 1299.13,1081.70 1300.81,1081.52 1302.49,1081.35 1304.17,1081.18 1305.85,1081.02 1307.53,1080.85 1309.21,1080.69 1310.89,1080.54 1312.57,1080.39 1314.25,1080.24 1315.93,1080.09 1317.61,1079.94 1319.29,1079.80 1320.97,1079.66 1322.65,1079.53 1324.33,1079.39 1326.01,1079.26 1327.69,1079.13 1329.37,1079.00 1331.05,1078.88 1332.73,1078.76 1334.41,1078.64 1336.09,1078.52 1337.77,1078.41 1339.44,1078.29 1341.12,1078.18 1342.80,1078.07 1344.48,1077.97 1346.16,1077.86 1347.84,1077.76 1349.52,1077.66 1351.20,1077.56 1352.88,1077.46 1354.56,1077.37 1356.24,1077.28 1357.92,1077.18 1359.60,1077.09 1361.28,1077.01 1362.96,1076.92 1364.64,1076.83 1366.32,1076.75 1368.00,1076.67 1369.68,1076.59 1371.36,1076.51 1373.04,1076.43 1374.72,1076.36 1376.40,1076.28 1378.08,1076.21 1379.76,1076.14 1381.44,1076.07 1383.12,1076.00 1384.80,1075.93 1386.48,1075.87 1388.16,1075.80 1389.84,1075.74 1391.52,1075.68 1393.20,1075.62 1394.88,1075.56 1396.56,1075.50 1398.24,1075.44 1399.92,1075.39 1401.60,1075.33 1403.28,1075.28 1404.96,1075.23 1406.64,1075.17 1408.31,1075.12 1409.99,1075.07 1411.67,1075.03 1413.35,1074.98 1415.03,1074.93 1416.71,1074.89 1418.39,1074.84 1420.07,1074.80 1421.75,1074.76 1423.43,1074.71 1425.11,1074.67 1426.79,1074.63 1428.47,1074.59 1430.15,1074.56 1431.83,1074.52 1433.51,1074.48 1435.19,1074.45 1436.87,1074.41 1438.55,1074.38 1440.23,1074.35 1441.91,1074.32 1443.59,1074.28 1445.27,1074.25 1446.95,1074.22 1448.63,1074.20 1450.31,1074.17 1451.99,1074.14 1453.67,1074.11 1455.35,1074.09 1457.03,1074.06 1458.71,1074.04 1460.39,1074.01 1462.07,1073.99 1463.75,1073.97 1465.43,1073.95 1467.11,1073.93 1468.79,1073.90 1470.47,1073.88 1472.15,1073.87 1473.83,1073.85 1475.50,1073.83 1477.18,1073.81 1478.86,1073.79 1480.54,1073.78 1482.22,1073.76 1483.90,1073.75 1485.58,1073.73 1487.26,1073.72 1488.94,1073.71 1490.62,1073.69 1492.30,1073.68 1493.98,1073.67 1495.66,1073.66 1497.34,1073.65 1499.02,1073.64 1500.70,1073.63 1502.38,1073.62 1504.06,1073.61 1505.74,1073.60 1507.42,1073.60 1509.10,1073.59 1510.78,1073.58 1512.46,1073.58 1514.14,1073.57 1515.82,1073.56 1517.50,1073.56 1519.18,1073.56 1520.86,1073.55 1522.54,1073.55 1524.22,1073.55 1525.90,1073.54 1527.58,1073.54 1529.26,1073.54 1530.94,1073.54 1532.62,1073.54 1534.30,1073.54 1535.98,1073.54 1537.66,1073.54 1539.34,1073.54 1541.02,1073.54 1542.70,1073.54 1544.37,1073.54 1546.05,1073.55 1547.73,1073.55 1549.41,1073.55 1551.09,1073.55 1552.77,1073.56 1554.45,1073.56 1556.13,1073.57 1557.81,1073.57 1559.49,1073.58 1561.17,1073.58 1562.85,1073.59 1564.53,1073.60 1566.21,1073.60 1567.89,1073.61 1569.57,1073.62 1571.25,1073.62 1572.93,1073.63 1574.61,1073.64 1576.29,1073.65 1577.97,1073.66 1579.65,1073.67 1581.33,1073.68 1583.01,1073.69 1584.69,1073.70 1586.37,1073.71 1588.05,1073.72 1589.73,1073.73 1591.41,1073.74 1593.09,1073.75 1594.77,1073.76 1596.45,1073.77 1598.13,1073.79 1599.81,1073.80 1601.49,1073.81 1603.17,1073.83 1604.85,1073.84 1606.53,1073.85 1608.21,1073.87 1609.89,1073.88 1611.57,1073.90 1613.24,1073.91 1614.92,1073.93 1616.60,1073.94 1618.28,1073.96 1619.96,1073.97 1621.64,1073.99 1623.32,1074.00 1625.00,1074.02 1626.68,1074.04 1628.36,1074.05 1630.04,1074.07 1631.72,1074.09 1633.40,1074.11 1635.08,1074.12 1636.76,1074.14 1638.44,1074.16 1640.12,1074.18 1641.80,1074.20 1643.48,1074.22 1645.16,1074.24 1646.84,1074.26 1648.52,1074.27 1650.20,1074.29 1651.88,1074.31 1653.56,1074.33 1655.24,1074.36 1656.92,1074.38 1658.60,1074.40 1660.28,1074.42 1661.96,1074.44 1663.64,1074.46 1665.32,1074.48 1667.00,1074.50 1668.68,1074.53 1670.36,1074.55 1672.04,1074.57 1673.72,1074.59 1675.40,1074.62 1677.08,1074.64 1678.76,1074.66 1680.43,1074.68 1682.11,1074.71 1683.79,1074.73 1685.47,1074.76 1687.15,1074.78 1688.83,1074.80 1690.51,1074.83 1692.19,1074.85 1693.87,1074.88 1695.55,1074.90 1697.23,1074.93 1698.91,1074.95 1700.59,1074.98 1702.27,1075.00 1703.95,1075.03 1705.63,1075.05 1707.31,1075.08 1708.99,1075.11 1710.67,1075.13 1712.35,1075.16 1714.03,1075.18 1715.71,1075.21 1717.39,1075.24 1719.07,1075.27 1720.75,1075.29 1722.43,1075.32 1724.11,1075.35 1725.79,1075.37 1727.47,1075.40 1729.15,1075.43 1730.83,1075.46 1732.51,1075.49 1734.19,1075.51 1735.87,1075.54 1737.55,1075.57 1739.23,1075.60 1740.91,1075.63 1742.59,1075.66 1744.27,1075.69 1745.95,1075.72 1747.63,1075.75 1749.30,1075.78 1750.98,1075.81 1752.66,1075.83 1754.34,1075.86 1756.02,1075.89 1757.70,1075.92 1759.38,1075.95 1761.06,1075.99 1762.74,1076.02 1764.42,1076.05 1766.10,1076.08 1767.78,1076.11 1769.46,1076.14 1771.14,1076.17 1772.82,1076.20 1774.50,1076.23 1776.18,1076.26 1777.86,1076.30 1779.54,1076.33 1781.22,1076.36 1782.90,1076.39" fill="none" stroke="#000" stroke-width="1.8"/>
<g fill="#000"><circle cx="1109.7" cy="1243.0" r="8.6"/><circle cx="1120.4" cy="1193.0" r="8.6"/><circle cx="1141.7" cy="1157.3" r="8.6"/><circle cx="1184.5" cy="1101.4" r="8.6"/><circle cx="1270.0" cy="1089.5" r="8.6"/><circle cx="1441.0" cy="1074.3" r="8.6"/><circle cx="1782.9" cy="1076.1" r="8.6"/></g>
<text transform="translate(0 1258.60) scale(1 1.086)" x="1384.58" y="0" font-size="34.00" textLength="19.65" lengthAdjust="spacingAndGlyphs" fill="#1a1a1a" stroke="#1a1a1a" stroke-width="0.3">K</text>
<text transform="translate(0 1270.90) scale(1 1.032)" x="1404.35" y="0" font-size="20.00" textLength="15.36" lengthAdjust="spacingAndGlyphs" fill="#1a1a1a" stroke="#1a1a1a" stroke-width="0.3">D</text>
<text transform="translate(0 1260.80) scale(1 1.060)" x="1427.31" y="0" font-size="34.00" textLength="21.98" lengthAdjust="spacingAndGlyphs" fill="#1a1a1a" stroke="#1a1a1a" stroke-width="0.3">~</text>
<text transform="translate(0 1258.60) scale(1 1.063)" x="1458.43" y="0" font-size="34.00" textLength="37.07" lengthAdjust="spacingAndGlyphs" fill="#1a1a1a" stroke="#1a1a1a" stroke-width="0.3">35</text>
<text transform="translate(0 1258.60) scale(1 1.086)" x="1505.18" y="0" font-size="34.00" textLength="52.62" lengthAdjust="spacingAndGlyphs" fill="#1a1a1a" stroke="#1a1a1a" stroke-width="0.3">nM</text>
<text transform="translate(0 28.00) scale(1 1.050)" x="0.35" y="0" font-size="36.00" font-weight="bold" textLength="27.56" lengthAdjust="spacingAndGlyphs" fill="#1a1a1a">A</text>
<text transform="translate(0 930.90) scale(1 1.046)" x="1.53" y="0" font-size="36.00" font-weight="bold" textLength="25.58" lengthAdjust="spacingAndGlyphs" fill="#1a1a1a">B</text>
</svg></body></html>
